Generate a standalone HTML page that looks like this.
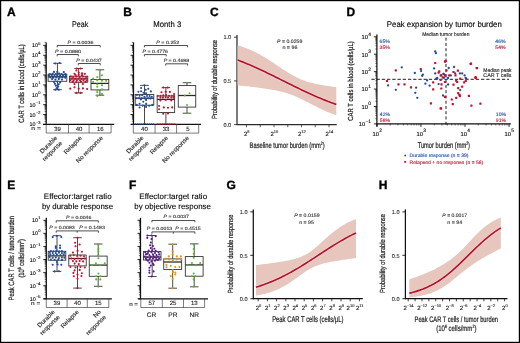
<!DOCTYPE html>
<html><head><meta charset="utf-8"><style>
html,body{margin:0;padding:0;background:#fff;}
body{width:520px;height:343px;overflow:hidden;}
svg{display:block;will-change:transform;font-family:"Liberation Sans",sans-serif;text-rendering:geometricPrecision;}
text{stroke-width:0.12px;}
text.b{stroke-width:0.22px;}
text.L{stroke-width:0.35px;}
</style></head><body>
<svg width="520" height="343" viewBox="0 0 520 343" xmlns="http://www.w3.org/2000/svg">
<rect x="0" y="0" width="520" height="343" fill="#fff"/>
<text class="L" x="7.00" y="16.10" font-size="12" fill="#000" font-weight="bold" stroke="#000">A</text>
<text x="72.00" y="26.60" font-size="8.2" textLength="16.30" lengthAdjust="spacingAndGlyphs" stroke="#111">Peak</text>
<text class="b" x="24.20" y="83.50" font-size="7.6" text-anchor="middle" textLength="78.50" lengthAdjust="spacingAndGlyphs" fill="#222" transform="rotate(-90 24.20 83.50)" stroke="#222">CAR T cells in blood (cells/µL)</text>
<line x1="46.20" y1="42.40" x2="46.20" y2="124.90" stroke="#111" stroke-width="1.25"/>
<line x1="43.20" y1="124.40" x2="46.20" y2="124.40" stroke="#111" stroke-width="0.9"/>
<text x="40.50" y="126.40" font-size="5.4" text-anchor="end" stroke="#111">10<tspan dx="0.35" dy="-2.9" font-size="4.00">−3</tspan></text>
<line x1="44.60" y1="121.43" x2="46.20" y2="121.43" stroke="#111" stroke-width="0.6"/>
<line x1="44.60" y1="119.69" x2="46.20" y2="119.69" stroke="#111" stroke-width="0.6"/>
<line x1="44.60" y1="118.45" x2="46.20" y2="118.45" stroke="#111" stroke-width="0.6"/>
<line x1="44.60" y1="117.50" x2="46.20" y2="117.50" stroke="#111" stroke-width="0.6"/>
<line x1="44.60" y1="116.72" x2="46.20" y2="116.72" stroke="#111" stroke-width="0.6"/>
<line x1="44.60" y1="116.05" x2="46.20" y2="116.05" stroke="#111" stroke-width="0.6"/>
<line x1="44.60" y1="115.48" x2="46.20" y2="115.48" stroke="#111" stroke-width="0.6"/>
<line x1="44.60" y1="114.98" x2="46.20" y2="114.98" stroke="#111" stroke-width="0.6"/>
<line x1="43.20" y1="114.53" x2="46.20" y2="114.53" stroke="#111" stroke-width="0.9"/>
<text x="40.50" y="116.53" font-size="5.4" text-anchor="end" stroke="#111">10<tspan dx="0.35" dy="-2.9" font-size="4.00">−2</tspan></text>
<line x1="44.60" y1="111.55" x2="46.20" y2="111.55" stroke="#111" stroke-width="0.6"/>
<line x1="44.60" y1="109.81" x2="46.20" y2="109.81" stroke="#111" stroke-width="0.6"/>
<line x1="44.60" y1="108.58" x2="46.20" y2="108.58" stroke="#111" stroke-width="0.6"/>
<line x1="44.60" y1="107.62" x2="46.20" y2="107.62" stroke="#111" stroke-width="0.6"/>
<line x1="44.60" y1="106.84" x2="46.20" y2="106.84" stroke="#111" stroke-width="0.6"/>
<line x1="44.60" y1="106.18" x2="46.20" y2="106.18" stroke="#111" stroke-width="0.6"/>
<line x1="44.60" y1="105.61" x2="46.20" y2="105.61" stroke="#111" stroke-width="0.6"/>
<line x1="44.60" y1="105.10" x2="46.20" y2="105.10" stroke="#111" stroke-width="0.6"/>
<line x1="43.20" y1="104.65" x2="46.20" y2="104.65" stroke="#111" stroke-width="0.9"/>
<text x="40.50" y="106.65" font-size="5.4" text-anchor="end" stroke="#111">10<tspan dx="0.35" dy="-2.9" font-size="4.00">−1</tspan></text>
<line x1="44.60" y1="101.68" x2="46.20" y2="101.68" stroke="#111" stroke-width="0.6"/>
<line x1="44.60" y1="99.94" x2="46.20" y2="99.94" stroke="#111" stroke-width="0.6"/>
<line x1="44.60" y1="98.70" x2="46.20" y2="98.70" stroke="#111" stroke-width="0.6"/>
<line x1="44.60" y1="97.75" x2="46.20" y2="97.75" stroke="#111" stroke-width="0.6"/>
<line x1="44.60" y1="96.97" x2="46.20" y2="96.97" stroke="#111" stroke-width="0.6"/>
<line x1="44.60" y1="96.30" x2="46.20" y2="96.30" stroke="#111" stroke-width="0.6"/>
<line x1="44.60" y1="95.73" x2="46.20" y2="95.73" stroke="#111" stroke-width="0.6"/>
<line x1="44.60" y1="95.23" x2="46.20" y2="95.23" stroke="#111" stroke-width="0.6"/>
<line x1="43.20" y1="94.78" x2="46.20" y2="94.78" stroke="#111" stroke-width="0.9"/>
<text x="40.50" y="96.78" font-size="5.4" text-anchor="end" stroke="#111">10<tspan dx="0.35" dy="-2.9" font-size="4.00">0</tspan></text>
<line x1="44.60" y1="91.80" x2="46.20" y2="91.80" stroke="#111" stroke-width="0.6"/>
<line x1="44.60" y1="90.06" x2="46.20" y2="90.06" stroke="#111" stroke-width="0.6"/>
<line x1="44.60" y1="88.83" x2="46.20" y2="88.83" stroke="#111" stroke-width="0.6"/>
<line x1="44.60" y1="87.87" x2="46.20" y2="87.87" stroke="#111" stroke-width="0.6"/>
<line x1="44.60" y1="87.09" x2="46.20" y2="87.09" stroke="#111" stroke-width="0.6"/>
<line x1="44.60" y1="86.43" x2="46.20" y2="86.43" stroke="#111" stroke-width="0.6"/>
<line x1="44.60" y1="85.86" x2="46.20" y2="85.86" stroke="#111" stroke-width="0.6"/>
<line x1="44.60" y1="85.35" x2="46.20" y2="85.35" stroke="#111" stroke-width="0.6"/>
<line x1="43.20" y1="84.90" x2="46.20" y2="84.90" stroke="#111" stroke-width="0.9"/>
<text x="40.50" y="86.90" font-size="5.4" text-anchor="end" stroke="#111">10<tspan dx="0.35" dy="-2.9" font-size="4.00">1</tspan></text>
<line x1="44.60" y1="81.93" x2="46.20" y2="81.93" stroke="#111" stroke-width="0.6"/>
<line x1="44.60" y1="80.19" x2="46.20" y2="80.19" stroke="#111" stroke-width="0.6"/>
<line x1="44.60" y1="78.95" x2="46.20" y2="78.95" stroke="#111" stroke-width="0.6"/>
<line x1="44.60" y1="78.00" x2="46.20" y2="78.00" stroke="#111" stroke-width="0.6"/>
<line x1="44.60" y1="77.22" x2="46.20" y2="77.22" stroke="#111" stroke-width="0.6"/>
<line x1="44.60" y1="76.55" x2="46.20" y2="76.55" stroke="#111" stroke-width="0.6"/>
<line x1="44.60" y1="75.98" x2="46.20" y2="75.98" stroke="#111" stroke-width="0.6"/>
<line x1="44.60" y1="75.48" x2="46.20" y2="75.48" stroke="#111" stroke-width="0.6"/>
<line x1="43.20" y1="75.03" x2="46.20" y2="75.03" stroke="#111" stroke-width="0.9"/>
<text x="40.50" y="77.03" font-size="5.4" text-anchor="end" stroke="#111">10<tspan dx="0.35" dy="-2.9" font-size="4.00">2</tspan></text>
<line x1="44.60" y1="72.05" x2="46.20" y2="72.05" stroke="#111" stroke-width="0.6"/>
<line x1="44.60" y1="70.31" x2="46.20" y2="70.31" stroke="#111" stroke-width="0.6"/>
<line x1="44.60" y1="69.08" x2="46.20" y2="69.08" stroke="#111" stroke-width="0.6"/>
<line x1="44.60" y1="68.12" x2="46.20" y2="68.12" stroke="#111" stroke-width="0.6"/>
<line x1="44.60" y1="67.34" x2="46.20" y2="67.34" stroke="#111" stroke-width="0.6"/>
<line x1="44.60" y1="66.68" x2="46.20" y2="66.68" stroke="#111" stroke-width="0.6"/>
<line x1="44.60" y1="66.11" x2="46.20" y2="66.11" stroke="#111" stroke-width="0.6"/>
<line x1="44.60" y1="65.60" x2="46.20" y2="65.60" stroke="#111" stroke-width="0.6"/>
<line x1="43.20" y1="65.15" x2="46.20" y2="65.15" stroke="#111" stroke-width="0.9"/>
<text x="40.50" y="67.15" font-size="5.4" text-anchor="end" stroke="#111">10<tspan dx="0.35" dy="-2.9" font-size="4.00">3</tspan></text>
<line x1="44.60" y1="62.18" x2="46.20" y2="62.18" stroke="#111" stroke-width="0.6"/>
<line x1="44.60" y1="60.44" x2="46.20" y2="60.44" stroke="#111" stroke-width="0.6"/>
<line x1="44.60" y1="59.20" x2="46.20" y2="59.20" stroke="#111" stroke-width="0.6"/>
<line x1="44.60" y1="58.25" x2="46.20" y2="58.25" stroke="#111" stroke-width="0.6"/>
<line x1="44.60" y1="57.47" x2="46.20" y2="57.47" stroke="#111" stroke-width="0.6"/>
<line x1="44.60" y1="56.80" x2="46.20" y2="56.80" stroke="#111" stroke-width="0.6"/>
<line x1="44.60" y1="56.23" x2="46.20" y2="56.23" stroke="#111" stroke-width="0.6"/>
<line x1="44.60" y1="55.73" x2="46.20" y2="55.73" stroke="#111" stroke-width="0.6"/>
<line x1="43.20" y1="55.27" x2="46.20" y2="55.27" stroke="#111" stroke-width="0.9"/>
<text x="40.50" y="57.27" font-size="5.4" text-anchor="end" stroke="#111">10<tspan dx="0.35" dy="-2.9" font-size="4.00">4</tspan></text>
<line x1="44.60" y1="52.30" x2="46.20" y2="52.30" stroke="#111" stroke-width="0.6"/>
<line x1="44.60" y1="50.56" x2="46.20" y2="50.56" stroke="#111" stroke-width="0.6"/>
<line x1="44.60" y1="49.33" x2="46.20" y2="49.33" stroke="#111" stroke-width="0.6"/>
<line x1="44.60" y1="48.37" x2="46.20" y2="48.37" stroke="#111" stroke-width="0.6"/>
<line x1="44.60" y1="47.59" x2="46.20" y2="47.59" stroke="#111" stroke-width="0.6"/>
<line x1="44.60" y1="46.93" x2="46.20" y2="46.93" stroke="#111" stroke-width="0.6"/>
<line x1="44.60" y1="46.36" x2="46.20" y2="46.36" stroke="#111" stroke-width="0.6"/>
<line x1="44.60" y1="45.85" x2="46.20" y2="45.85" stroke="#111" stroke-width="0.6"/>
<line x1="43.20" y1="45.40" x2="46.20" y2="45.40" stroke="#111" stroke-width="0.9"/>
<text x="40.50" y="47.40" font-size="5.4" text-anchor="end" stroke="#111">10<tspan dx="0.35" dy="-2.9" font-size="4.00">5</tspan></text>
<line x1="44.60" y1="42.43" x2="46.20" y2="42.43" stroke="#111" stroke-width="0.6"/>
<line x1="43.00" y1="124.40" x2="114.20" y2="124.40" stroke="#111" stroke-width="1.25"/>
<text x="31.30" y="130.30" font-size="5.4" textLength="9.60" lengthAdjust="spacingAndGlyphs" fill="#222" stroke="#222">n =</text>
<line x1="46.20" y1="124.40" x2="46.20" y2="133.00" stroke="#444" stroke-width="0.7"/>
<line x1="111.10" y1="124.40" x2="111.10" y2="133.00" stroke="#444" stroke-width="0.7"/>
<line x1="46.20" y1="133.00" x2="111.10" y2="133.00" stroke="#444" stroke-width="0.7"/>
<line x1="68.50" y1="124.40" x2="68.50" y2="133.00" stroke="#444" stroke-width="0.7"/>
<line x1="89.10" y1="124.40" x2="89.10" y2="133.00" stroke="#444" stroke-width="0.7"/>
<text x="57.55" y="130.90" font-size="6.0" text-anchor="middle" fill="#222" stroke="#222">39</text>
<text x="79.00" y="130.90" font-size="6.0" text-anchor="middle" fill="#222" stroke="#222">40</text>
<text x="100.30" y="130.90" font-size="6.0" text-anchor="middle" fill="#222" stroke="#222">16</text>
<line x1="57.45" y1="63.30" x2="57.45" y2="74.20" stroke="#2a2a2a" stroke-width="0.85"/>
<line x1="57.45" y1="81.30" x2="57.45" y2="89.70" stroke="#2a2a2a" stroke-width="0.85"/>
<line x1="53.15" y1="63.30" x2="61.75" y2="63.30" stroke="#2a2a2a" stroke-width="0.85"/>
<line x1="53.15" y1="89.70" x2="61.75" y2="89.70" stroke="#2a2a2a" stroke-width="0.85"/>
<rect x="48.10" y="74.20" width="18.70" height="7.10" stroke="#2a2a2a" stroke-width="0.85" fill="none"/>
<line x1="48.10" y1="76.80" x2="66.80" y2="76.80" stroke="#2a2a2a" stroke-width="1.275"/>
<line x1="78.60" y1="68.50" x2="78.60" y2="76.20" stroke="#2a2a2a" stroke-width="0.85"/>
<line x1="78.60" y1="82.20" x2="78.60" y2="92.90" stroke="#2a2a2a" stroke-width="0.85"/>
<line x1="74.30" y1="68.50" x2="82.90" y2="68.50" stroke="#2a2a2a" stroke-width="0.85"/>
<line x1="74.30" y1="92.90" x2="82.90" y2="92.90" stroke="#2a2a2a" stroke-width="0.85"/>
<rect x="69.40" y="76.20" width="18.40" height="6.00" stroke="#2a2a2a" stroke-width="0.85" fill="none"/>
<line x1="69.40" y1="78.90" x2="87.80" y2="78.90" stroke="#2a2a2a" stroke-width="1.275"/>
<line x1="99.90" y1="69.80" x2="99.90" y2="79.40" stroke="#2a2a2a" stroke-width="0.85"/>
<line x1="99.90" y1="89.90" x2="99.90" y2="95.20" stroke="#2a2a2a" stroke-width="0.85"/>
<line x1="95.60" y1="69.80" x2="104.20" y2="69.80" stroke="#2a2a2a" stroke-width="0.85"/>
<line x1="95.60" y1="95.20" x2="104.20" y2="95.20" stroke="#2a2a2a" stroke-width="0.85"/>
<rect x="91.00" y="79.40" width="17.80" height="10.50" stroke="#2a2a2a" stroke-width="0.85" fill="none"/>
<line x1="91.00" y1="83.40" x2="108.80" y2="83.40" stroke="#2a2a2a" stroke-width="1.275"/>
<circle cx="55.20" cy="63.50" r="1.1" fill="#1f4a9c"/>
<circle cx="59.60" cy="63.00" r="1.1" fill="#1f4a9c"/>
<circle cx="54.00" cy="71.90" r="1.1" fill="#1f4a9c"/>
<circle cx="57.30" cy="71.90" r="1.1" fill="#1f4a9c"/>
<circle cx="63.80" cy="72.10" r="1.1" fill="#1f4a9c"/>
<circle cx="49.80" cy="74.00" r="1.1" fill="#1f4a9c"/>
<circle cx="52.60" cy="73.80" r="1.1" fill="#1f4a9c"/>
<circle cx="55.90" cy="74.00" r="1.1" fill="#1f4a9c"/>
<circle cx="59.10" cy="73.50" r="1.1" fill="#1f4a9c"/>
<circle cx="61.50" cy="74.00" r="1.1" fill="#1f4a9c"/>
<circle cx="65.20" cy="74.20" r="1.1" fill="#1f4a9c"/>
<circle cx="48.90" cy="75.70" r="1.1" fill="#1f4a9c"/>
<circle cx="51.70" cy="75.40" r="1.1" fill="#1f4a9c"/>
<circle cx="54.50" cy="75.90" r="1.1" fill="#1f4a9c"/>
<circle cx="57.30" cy="75.40" r="1.1" fill="#1f4a9c"/>
<circle cx="60.10" cy="75.90" r="1.1" fill="#1f4a9c"/>
<circle cx="62.90" cy="75.40" r="1.1" fill="#1f4a9c"/>
<circle cx="65.70" cy="75.90" r="1.1" fill="#1f4a9c"/>
<circle cx="50.30" cy="77.30" r="1.1" fill="#1f4a9c"/>
<circle cx="53.10" cy="77.70" r="1.1" fill="#1f4a9c"/>
<circle cx="56.30" cy="77.30" r="1.1" fill="#1f4a9c"/>
<circle cx="59.60" cy="77.70" r="1.1" fill="#1f4a9c"/>
<circle cx="62.40" cy="77.30" r="1.1" fill="#1f4a9c"/>
<circle cx="65.20" cy="77.70" r="1.1" fill="#1f4a9c"/>
<circle cx="52.10" cy="79.10" r="1.1" fill="#1f4a9c"/>
<circle cx="55.40" cy="79.60" r="1.1" fill="#1f4a9c"/>
<circle cx="58.70" cy="79.10" r="1.1" fill="#1f4a9c"/>
<circle cx="61.90" cy="79.60" r="1.1" fill="#1f4a9c"/>
<circle cx="54.00" cy="81.90" r="1.1" fill="#1f4a9c"/>
<circle cx="57.30" cy="81.50" r="1.1" fill="#1f4a9c"/>
<circle cx="60.10" cy="82.40" r="1.1" fill="#1f4a9c"/>
<circle cx="54.90" cy="83.80" r="1.1" fill="#1f4a9c"/>
<circle cx="58.70" cy="84.30" r="1.1" fill="#1f4a9c"/>
<circle cx="55.90" cy="85.70" r="1.1" fill="#1f4a9c"/>
<circle cx="58.20" cy="86.60" r="1.1" fill="#1f4a9c"/>
<circle cx="56.80" cy="88.00" r="1.1" fill="#1f4a9c"/>
<circle cx="55.40" cy="89.70" r="1.1" fill="#1f4a9c"/>
<circle cx="58.70" cy="89.70" r="1.1" fill="#1f4a9c"/>
<circle cx="76.60" cy="68.50" r="1.1" fill="#c5112f"/>
<circle cx="80.60" cy="68.50" r="1.1" fill="#c5112f"/>
<circle cx="76.40" cy="70.50" r="1.1" fill="#c5112f"/>
<circle cx="78.70" cy="72.60" r="1.1" fill="#c5112f"/>
<circle cx="74.50" cy="73.80" r="1.1" fill="#c5112f"/>
<circle cx="82.00" cy="73.30" r="1.1" fill="#c5112f"/>
<circle cx="84.80" cy="73.80" r="1.1" fill="#c5112f"/>
<circle cx="75.50" cy="75.00" r="1.1" fill="#c5112f"/>
<circle cx="78.70" cy="74.70" r="1.1" fill="#c5112f"/>
<circle cx="82.00" cy="75.20" r="1.1" fill="#c5112f"/>
<circle cx="70.80" cy="76.60" r="1.1" fill="#c5112f"/>
<circle cx="73.10" cy="77.10" r="1.1" fill="#c5112f"/>
<circle cx="76.40" cy="76.60" r="1.1" fill="#c5112f"/>
<circle cx="79.70" cy="77.10" r="1.1" fill="#c5112f"/>
<circle cx="82.90" cy="76.60" r="1.1" fill="#c5112f"/>
<circle cx="86.20" cy="77.10" r="1.1" fill="#c5112f"/>
<circle cx="71.70" cy="78.50" r="1.1" fill="#c5112f"/>
<circle cx="75.00" cy="78.70" r="1.1" fill="#c5112f"/>
<circle cx="78.30" cy="78.50" r="1.1" fill="#c5112f"/>
<circle cx="81.50" cy="78.70" r="1.1" fill="#c5112f"/>
<circle cx="84.80" cy="78.50" r="1.1" fill="#c5112f"/>
<circle cx="70.30" cy="80.30" r="1.1" fill="#c5112f"/>
<circle cx="73.60" cy="80.60" r="1.1" fill="#c5112f"/>
<circle cx="76.90" cy="80.30" r="1.1" fill="#c5112f"/>
<circle cx="80.10" cy="80.60" r="1.1" fill="#c5112f"/>
<circle cx="83.40" cy="80.30" r="1.1" fill="#c5112f"/>
<circle cx="86.70" cy="80.60" r="1.1" fill="#c5112f"/>
<circle cx="72.70" cy="81.90" r="1.1" fill="#c5112f"/>
<circle cx="76.40" cy="82.20" r="1.1" fill="#c5112f"/>
<circle cx="81.10" cy="81.90" r="1.1" fill="#c5112f"/>
<circle cx="85.30" cy="81.90" r="1.1" fill="#c5112f"/>
<circle cx="74.50" cy="84.10" r="1.1" fill="#c5112f"/>
<circle cx="82.90" cy="84.10" r="1.1" fill="#c5112f"/>
<circle cx="74.50" cy="87.30" r="1.1" fill="#c5112f"/>
<circle cx="70.30" cy="88.70" r="1.1" fill="#c5112f"/>
<circle cx="78.70" cy="88.70" r="1.1" fill="#c5112f"/>
<circle cx="82.90" cy="88.40" r="1.1" fill="#c5112f"/>
<circle cx="87.10" cy="89.00" r="1.1" fill="#c5112f"/>
<circle cx="76.40" cy="92.90" r="1.1" fill="#c5112f"/>
<circle cx="80.60" cy="92.90" r="1.1" fill="#c5112f"/>
<circle cx="99.70" cy="69.90" r="1.05" fill="#5cb32c"/>
<circle cx="102.00" cy="75.20" r="1.05" fill="#5cb32c"/>
<circle cx="97.30" cy="77.00" r="1.05" fill="#5cb32c"/>
<circle cx="93.10" cy="78.60" r="1.05" fill="#5cb32c"/>
<circle cx="97.30" cy="80.20" r="1.05" fill="#5cb32c"/>
<circle cx="102.00" cy="80.70" r="1.05" fill="#5cb32c"/>
<circle cx="106.20" cy="80.70" r="1.05" fill="#5cb32c"/>
<circle cx="93.10" cy="82.10" r="1.05" fill="#5cb32c"/>
<circle cx="97.30" cy="84.20" r="1.05" fill="#5cb32c"/>
<circle cx="102.00" cy="85.20" r="1.05" fill="#5cb32c"/>
<circle cx="97.30" cy="86.70" r="1.05" fill="#5cb32c"/>
<circle cx="102.00" cy="89.40" r="1.05" fill="#5cb32c"/>
<circle cx="97.30" cy="90.50" r="1.05" fill="#5cb32c"/>
<circle cx="97.30" cy="92.20" r="1.05" fill="#5cb32c"/>
<circle cx="102.00" cy="93.90" r="1.05" fill="#5cb32c"/>
<circle cx="97.30" cy="95.90" r="1.05" fill="#5cb32c"/>
<path d="M57.20,47.30 L57.20,45.50 L100.20,45.50 L100.20,47.30" stroke="#222" stroke-width="0.8" fill="none"/>
<text x="80.50" y="44.00" font-size="4.6" text-anchor="middle" fill="#333" textLength="26.00" lengthAdjust="spacingAndGlyphs" stroke="#333"><tspan font-style="italic">P</tspan> = 0.0036</text>
<path d="M57.20,56.30 L57.20,54.50 L78.30,54.50 L78.30,56.30" stroke="#222" stroke-width="0.8" fill="none"/>
<text x="68.00" y="53.00" font-size="4.6" text-anchor="middle" fill="#333" textLength="26.00" lengthAdjust="spacingAndGlyphs" stroke="#333"><tspan font-style="italic">P</tspan> = 0.0880</text>
<path d="M78.30,65.30 L78.30,63.50 L100.20,63.50 L100.20,65.30" stroke="#222" stroke-width="0.8" fill="none"/>
<text x="89.00" y="62.00" font-size="4.6" text-anchor="middle" fill="#333" textLength="25.50" lengthAdjust="spacingAndGlyphs" stroke="#333"><tspan font-style="italic">P</tspan> = 0.0437</text>
<text x="57.60" y="138.40" font-size="6.2" text-anchor="end" fill="#222" transform="rotate(-45 57.60 138.40)" stroke="#222">Durable</text>
<text x="62.69" y="143.49" font-size="6.2" text-anchor="end" fill="#222" transform="rotate(-45 62.69 143.49)" stroke="#222">response</text>
<text x="82.20" y="138.40" font-size="6.2" text-anchor="end" fill="#222" transform="rotate(-45 82.20 138.40)" stroke="#222">Relapse</text>
<text x="103.40" y="138.40" font-size="6.2" text-anchor="end" fill="#222" transform="rotate(-45 103.40 138.40)" stroke="#222">No response</text>
<text class="L" x="123.20" y="16.10" font-size="12" fill="#000" font-weight="bold" stroke="#000">B</text>
<text x="153.30" y="26.60" font-size="8.2" textLength="28.00" lengthAdjust="spacingAndGlyphs" stroke="#111">Month 3</text>
<line x1="133.50" y1="42.40" x2="133.50" y2="124.90" stroke="#111" stroke-width="1.25"/>
<line x1="130.50" y1="124.40" x2="133.50" y2="124.40" stroke="#111" stroke-width="0.9"/>
<line x1="131.90" y1="121.43" x2="133.50" y2="121.43" stroke="#111" stroke-width="0.6"/>
<line x1="131.90" y1="119.69" x2="133.50" y2="119.69" stroke="#111" stroke-width="0.6"/>
<line x1="131.90" y1="118.45" x2="133.50" y2="118.45" stroke="#111" stroke-width="0.6"/>
<line x1="131.90" y1="117.50" x2="133.50" y2="117.50" stroke="#111" stroke-width="0.6"/>
<line x1="131.90" y1="116.72" x2="133.50" y2="116.72" stroke="#111" stroke-width="0.6"/>
<line x1="131.90" y1="116.05" x2="133.50" y2="116.05" stroke="#111" stroke-width="0.6"/>
<line x1="131.90" y1="115.48" x2="133.50" y2="115.48" stroke="#111" stroke-width="0.6"/>
<line x1="131.90" y1="114.98" x2="133.50" y2="114.98" stroke="#111" stroke-width="0.6"/>
<line x1="130.50" y1="114.53" x2="133.50" y2="114.53" stroke="#111" stroke-width="0.9"/>
<line x1="131.90" y1="111.55" x2="133.50" y2="111.55" stroke="#111" stroke-width="0.6"/>
<line x1="131.90" y1="109.81" x2="133.50" y2="109.81" stroke="#111" stroke-width="0.6"/>
<line x1="131.90" y1="108.58" x2="133.50" y2="108.58" stroke="#111" stroke-width="0.6"/>
<line x1="131.90" y1="107.62" x2="133.50" y2="107.62" stroke="#111" stroke-width="0.6"/>
<line x1="131.90" y1="106.84" x2="133.50" y2="106.84" stroke="#111" stroke-width="0.6"/>
<line x1="131.90" y1="106.18" x2="133.50" y2="106.18" stroke="#111" stroke-width="0.6"/>
<line x1="131.90" y1="105.61" x2="133.50" y2="105.61" stroke="#111" stroke-width="0.6"/>
<line x1="131.90" y1="105.10" x2="133.50" y2="105.10" stroke="#111" stroke-width="0.6"/>
<line x1="130.50" y1="104.65" x2="133.50" y2="104.65" stroke="#111" stroke-width="0.9"/>
<line x1="131.90" y1="101.68" x2="133.50" y2="101.68" stroke="#111" stroke-width="0.6"/>
<line x1="131.90" y1="99.94" x2="133.50" y2="99.94" stroke="#111" stroke-width="0.6"/>
<line x1="131.90" y1="98.70" x2="133.50" y2="98.70" stroke="#111" stroke-width="0.6"/>
<line x1="131.90" y1="97.75" x2="133.50" y2="97.75" stroke="#111" stroke-width="0.6"/>
<line x1="131.90" y1="96.97" x2="133.50" y2="96.97" stroke="#111" stroke-width="0.6"/>
<line x1="131.90" y1="96.30" x2="133.50" y2="96.30" stroke="#111" stroke-width="0.6"/>
<line x1="131.90" y1="95.73" x2="133.50" y2="95.73" stroke="#111" stroke-width="0.6"/>
<line x1="131.90" y1="95.23" x2="133.50" y2="95.23" stroke="#111" stroke-width="0.6"/>
<line x1="130.50" y1="94.78" x2="133.50" y2="94.78" stroke="#111" stroke-width="0.9"/>
<line x1="131.90" y1="91.80" x2="133.50" y2="91.80" stroke="#111" stroke-width="0.6"/>
<line x1="131.90" y1="90.06" x2="133.50" y2="90.06" stroke="#111" stroke-width="0.6"/>
<line x1="131.90" y1="88.83" x2="133.50" y2="88.83" stroke="#111" stroke-width="0.6"/>
<line x1="131.90" y1="87.87" x2="133.50" y2="87.87" stroke="#111" stroke-width="0.6"/>
<line x1="131.90" y1="87.09" x2="133.50" y2="87.09" stroke="#111" stroke-width="0.6"/>
<line x1="131.90" y1="86.43" x2="133.50" y2="86.43" stroke="#111" stroke-width="0.6"/>
<line x1="131.90" y1="85.86" x2="133.50" y2="85.86" stroke="#111" stroke-width="0.6"/>
<line x1="131.90" y1="85.35" x2="133.50" y2="85.35" stroke="#111" stroke-width="0.6"/>
<line x1="130.50" y1="84.90" x2="133.50" y2="84.90" stroke="#111" stroke-width="0.9"/>
<line x1="131.90" y1="81.93" x2="133.50" y2="81.93" stroke="#111" stroke-width="0.6"/>
<line x1="131.90" y1="80.19" x2="133.50" y2="80.19" stroke="#111" stroke-width="0.6"/>
<line x1="131.90" y1="78.95" x2="133.50" y2="78.95" stroke="#111" stroke-width="0.6"/>
<line x1="131.90" y1="78.00" x2="133.50" y2="78.00" stroke="#111" stroke-width="0.6"/>
<line x1="131.90" y1="77.22" x2="133.50" y2="77.22" stroke="#111" stroke-width="0.6"/>
<line x1="131.90" y1="76.55" x2="133.50" y2="76.55" stroke="#111" stroke-width="0.6"/>
<line x1="131.90" y1="75.98" x2="133.50" y2="75.98" stroke="#111" stroke-width="0.6"/>
<line x1="131.90" y1="75.48" x2="133.50" y2="75.48" stroke="#111" stroke-width="0.6"/>
<line x1="130.50" y1="75.03" x2="133.50" y2="75.03" stroke="#111" stroke-width="0.9"/>
<line x1="131.90" y1="72.05" x2="133.50" y2="72.05" stroke="#111" stroke-width="0.6"/>
<line x1="131.90" y1="70.31" x2="133.50" y2="70.31" stroke="#111" stroke-width="0.6"/>
<line x1="131.90" y1="69.08" x2="133.50" y2="69.08" stroke="#111" stroke-width="0.6"/>
<line x1="131.90" y1="68.12" x2="133.50" y2="68.12" stroke="#111" stroke-width="0.6"/>
<line x1="131.90" y1="67.34" x2="133.50" y2="67.34" stroke="#111" stroke-width="0.6"/>
<line x1="131.90" y1="66.68" x2="133.50" y2="66.68" stroke="#111" stroke-width="0.6"/>
<line x1="131.90" y1="66.11" x2="133.50" y2="66.11" stroke="#111" stroke-width="0.6"/>
<line x1="131.90" y1="65.60" x2="133.50" y2="65.60" stroke="#111" stroke-width="0.6"/>
<line x1="130.50" y1="65.15" x2="133.50" y2="65.15" stroke="#111" stroke-width="0.9"/>
<line x1="131.90" y1="62.18" x2="133.50" y2="62.18" stroke="#111" stroke-width="0.6"/>
<line x1="131.90" y1="60.44" x2="133.50" y2="60.44" stroke="#111" stroke-width="0.6"/>
<line x1="131.90" y1="59.20" x2="133.50" y2="59.20" stroke="#111" stroke-width="0.6"/>
<line x1="131.90" y1="58.25" x2="133.50" y2="58.25" stroke="#111" stroke-width="0.6"/>
<line x1="131.90" y1="57.47" x2="133.50" y2="57.47" stroke="#111" stroke-width="0.6"/>
<line x1="131.90" y1="56.80" x2="133.50" y2="56.80" stroke="#111" stroke-width="0.6"/>
<line x1="131.90" y1="56.23" x2="133.50" y2="56.23" stroke="#111" stroke-width="0.6"/>
<line x1="131.90" y1="55.73" x2="133.50" y2="55.73" stroke="#111" stroke-width="0.6"/>
<line x1="130.50" y1="55.27" x2="133.50" y2="55.27" stroke="#111" stroke-width="0.9"/>
<line x1="131.90" y1="52.30" x2="133.50" y2="52.30" stroke="#111" stroke-width="0.6"/>
<line x1="131.90" y1="50.56" x2="133.50" y2="50.56" stroke="#111" stroke-width="0.6"/>
<line x1="131.90" y1="49.33" x2="133.50" y2="49.33" stroke="#111" stroke-width="0.6"/>
<line x1="131.90" y1="48.37" x2="133.50" y2="48.37" stroke="#111" stroke-width="0.6"/>
<line x1="131.90" y1="47.59" x2="133.50" y2="47.59" stroke="#111" stroke-width="0.6"/>
<line x1="131.90" y1="46.93" x2="133.50" y2="46.93" stroke="#111" stroke-width="0.6"/>
<line x1="131.90" y1="46.36" x2="133.50" y2="46.36" stroke="#111" stroke-width="0.6"/>
<line x1="131.90" y1="45.85" x2="133.50" y2="45.85" stroke="#111" stroke-width="0.6"/>
<line x1="130.50" y1="45.40" x2="133.50" y2="45.40" stroke="#111" stroke-width="0.9"/>
<line x1="131.90" y1="42.43" x2="133.50" y2="42.43" stroke="#111" stroke-width="0.6"/>
<line x1="131.00" y1="124.30" x2="201.10" y2="124.30" stroke="#111" stroke-width="1.25"/>
<line x1="133.30" y1="124.30" x2="133.30" y2="133.10" stroke="#444" stroke-width="0.7"/>
<line x1="198.70" y1="124.30" x2="198.70" y2="133.10" stroke="#444" stroke-width="0.7"/>
<line x1="133.30" y1="133.10" x2="198.70" y2="133.10" stroke="#444" stroke-width="0.7"/>
<line x1="155.10" y1="124.30" x2="155.10" y2="133.10" stroke="#444" stroke-width="0.7"/>
<line x1="176.60" y1="124.30" x2="176.60" y2="133.10" stroke="#444" stroke-width="0.7"/>
<text x="144.40" y="131.00" font-size="6.0" text-anchor="middle" fill="#222" stroke="#222">40</text>
<text x="166.05" y="131.00" font-size="6.0" text-anchor="middle" fill="#222" stroke="#222">33</text>
<text x="187.85" y="131.00" font-size="6.0" text-anchor="middle" fill="#222" stroke="#222">5</text>
<line x1="144.50" y1="85.40" x2="144.50" y2="94.40" stroke="#2a2a2a" stroke-width="0.85"/>
<line x1="144.50" y1="105.20" x2="144.50" y2="124.00" stroke="#2a2a2a" stroke-width="0.85"/>
<line x1="140.20" y1="85.40" x2="148.80" y2="85.40" stroke="#2a2a2a" stroke-width="0.85"/>
<rect x="135.20" y="94.40" width="18.60" height="10.80" stroke="#2a2a2a" stroke-width="0.85" fill="none"/>
<line x1="135.20" y1="98.20" x2="153.80" y2="98.20" stroke="#2a2a2a" stroke-width="1.275"/>
<line x1="165.90" y1="87.60" x2="165.90" y2="96.00" stroke="#2a2a2a" stroke-width="0.85"/>
<line x1="165.90" y1="112.50" x2="165.90" y2="124.00" stroke="#2a2a2a" stroke-width="0.85"/>
<line x1="161.60" y1="87.60" x2="170.20" y2="87.60" stroke="#2a2a2a" stroke-width="0.85"/>
<rect x="157.15" y="96.00" width="17.50" height="16.50" stroke="#2a2a2a" stroke-width="0.85" fill="none"/>
<line x1="157.15" y1="99.40" x2="174.65" y2="99.40" stroke="#2a2a2a" stroke-width="1.275"/>
<line x1="187.00" y1="82.70" x2="187.00" y2="85.60" stroke="#2a2a2a" stroke-width="0.85"/>
<line x1="187.00" y1="107.10" x2="187.00" y2="113.20" stroke="#2a2a2a" stroke-width="0.85"/>
<line x1="182.70" y1="82.70" x2="191.30" y2="82.70" stroke="#2a2a2a" stroke-width="0.85"/>
<line x1="182.70" y1="113.20" x2="191.30" y2="113.20" stroke="#2a2a2a" stroke-width="0.85"/>
<rect x="178.25" y="85.60" width="17.50" height="21.50" stroke="#2a2a2a" stroke-width="0.85" fill="none"/>
<line x1="178.25" y1="95.50" x2="195.75" y2="95.50" stroke="#2a2a2a" stroke-width="1.275"/>
<circle cx="144.40" cy="85.30" r="1.05" fill="#1f4a9c"/>
<circle cx="141.10" cy="88.00" r="1.05" fill="#1f4a9c"/>
<circle cx="145.70" cy="89.70" r="1.05" fill="#1f4a9c"/>
<circle cx="148.30" cy="88.80" r="1.05" fill="#1f4a9c"/>
<circle cx="138.40" cy="91.80" r="1.05" fill="#1f4a9c"/>
<circle cx="141.10" cy="91.20" r="1.05" fill="#1f4a9c"/>
<circle cx="143.50" cy="92.70" r="1.05" fill="#1f4a9c"/>
<circle cx="146.10" cy="93.20" r="1.05" fill="#1f4a9c"/>
<circle cx="150.90" cy="91.40" r="1.05" fill="#1f4a9c"/>
<circle cx="136.90" cy="95.00" r="1.05" fill="#1f4a9c"/>
<circle cx="139.60" cy="95.80" r="1.05" fill="#1f4a9c"/>
<circle cx="142.20" cy="95.30" r="1.05" fill="#1f4a9c"/>
<circle cx="144.40" cy="96.70" r="1.05" fill="#1f4a9c"/>
<circle cx="147.00" cy="96.00" r="1.05" fill="#1f4a9c"/>
<circle cx="149.60" cy="96.00" r="1.05" fill="#1f4a9c"/>
<circle cx="151.80" cy="96.70" r="1.05" fill="#1f4a9c"/>
<circle cx="136.50" cy="98.20" r="1.05" fill="#1f4a9c"/>
<circle cx="139.10" cy="98.20" r="1.05" fill="#1f4a9c"/>
<circle cx="141.70" cy="98.20" r="1.05" fill="#1f4a9c"/>
<circle cx="145.20" cy="98.60" r="1.05" fill="#1f4a9c"/>
<circle cx="148.30" cy="98.20" r="1.05" fill="#1f4a9c"/>
<circle cx="150.50" cy="98.60" r="1.05" fill="#1f4a9c"/>
<circle cx="140.90" cy="99.50" r="1.05" fill="#1f4a9c"/>
<circle cx="146.10" cy="99.90" r="1.05" fill="#1f4a9c"/>
<circle cx="143.30" cy="101.70" r="1.05" fill="#1f4a9c"/>
<circle cx="136.70" cy="104.90" r="1.05" fill="#1f4a9c"/>
<circle cx="139.60" cy="103.70" r="1.05" fill="#1f4a9c"/>
<circle cx="142.80" cy="105.60" r="1.05" fill="#1f4a9c"/>
<circle cx="146.10" cy="103.90" r="1.05" fill="#1f4a9c"/>
<circle cx="149.20" cy="105.80" r="1.05" fill="#1f4a9c"/>
<circle cx="152.20" cy="104.90" r="1.05" fill="#1f4a9c"/>
<circle cx="139.60" cy="107.50" r="1.05" fill="#1f4a9c"/>
<circle cx="146.10" cy="106.90" r="1.05" fill="#1f4a9c"/>
<circle cx="163.30" cy="87.60" r="1.05" fill="#c5112f"/>
<circle cx="167.80" cy="87.60" r="1.05" fill="#c5112f"/>
<circle cx="161.50" cy="92.20" r="1.05" fill="#c5112f"/>
<circle cx="165.70" cy="91.70" r="1.05" fill="#c5112f"/>
<circle cx="169.90" cy="91.90" r="1.05" fill="#c5112f"/>
<circle cx="174.10" cy="94.10" r="1.05" fill="#c5112f"/>
<circle cx="157.70" cy="95.70" r="1.05" fill="#c5112f"/>
<circle cx="160.50" cy="95.70" r="1.05" fill="#c5112f"/>
<circle cx="163.30" cy="95.40" r="1.05" fill="#c5112f"/>
<circle cx="166.10" cy="95.00" r="1.05" fill="#c5112f"/>
<circle cx="169.00" cy="95.70" r="1.05" fill="#c5112f"/>
<circle cx="171.80" cy="95.70" r="1.05" fill="#c5112f"/>
<circle cx="173.90" cy="96.00" r="1.05" fill="#c5112f"/>
<circle cx="160.40" cy="97.60" r="1.05" fill="#c5112f"/>
<circle cx="162.90" cy="97.60" r="1.05" fill="#c5112f"/>
<circle cx="165.70" cy="97.10" r="1.05" fill="#c5112f"/>
<circle cx="168.00" cy="97.60" r="1.05" fill="#c5112f"/>
<circle cx="171.30" cy="97.60" r="1.05" fill="#c5112f"/>
<circle cx="173.60" cy="97.80" r="1.05" fill="#c5112f"/>
<circle cx="160.40" cy="100.40" r="1.05" fill="#c5112f"/>
<circle cx="165.70" cy="99.90" r="1.05" fill="#c5112f"/>
<circle cx="171.30" cy="100.40" r="1.05" fill="#c5112f"/>
<circle cx="159.10" cy="106.00" r="1.05" fill="#c5112f"/>
<circle cx="163.80" cy="107.40" r="1.05" fill="#c5112f"/>
<circle cx="168.00" cy="107.80" r="1.05" fill="#c5112f"/>
<circle cx="172.20" cy="107.40" r="1.05" fill="#c5112f"/>
<circle cx="159.10" cy="109.20" r="1.05" fill="#c5112f"/>
<circle cx="163.30" cy="113.70" r="1.05" fill="#c5112f"/>
<circle cx="168.00" cy="113.40" r="1.05" fill="#c5112f"/>
<circle cx="135.60" cy="124.00" r="0.8" fill="#1f4a9c"/>
<circle cx="137.60" cy="124.00" r="0.8" fill="#1f4a9c"/>
<circle cx="139.60" cy="124.00" r="0.8" fill="#1f4a9c"/>
<circle cx="141.60" cy="124.00" r="0.8" fill="#1f4a9c"/>
<circle cx="143.60" cy="124.00" r="0.8" fill="#1f4a9c"/>
<circle cx="145.60" cy="124.00" r="0.8" fill="#1f4a9c"/>
<circle cx="147.60" cy="124.00" r="0.8" fill="#1f4a9c"/>
<circle cx="149.60" cy="124.00" r="0.8" fill="#1f4a9c"/>
<circle cx="151.60" cy="124.00" r="0.8" fill="#1f4a9c"/>
<circle cx="153.60" cy="124.00" r="0.8" fill="#1f4a9c"/>
<circle cx="157.20" cy="124.00" r="0.8" fill="#c5112f"/>
<circle cx="158.95" cy="124.00" r="0.8" fill="#c5112f"/>
<circle cx="160.70" cy="124.00" r="0.8" fill="#c5112f"/>
<circle cx="162.45" cy="124.00" r="0.8" fill="#c5112f"/>
<circle cx="164.20" cy="124.00" r="0.8" fill="#c5112f"/>
<circle cx="165.95" cy="124.00" r="0.8" fill="#c5112f"/>
<circle cx="167.70" cy="124.00" r="0.8" fill="#c5112f"/>
<circle cx="169.45" cy="124.00" r="0.8" fill="#c5112f"/>
<circle cx="171.20" cy="124.00" r="0.8" fill="#c5112f"/>
<circle cx="172.95" cy="124.00" r="0.8" fill="#c5112f"/>
<circle cx="174.70" cy="124.00" r="0.8" fill="#c5112f"/>
<circle cx="187.00" cy="82.70" r="0.95" fill="#5cb32c"/>
<circle cx="189.50" cy="93.30" r="0.95" fill="#5cb32c"/>
<circle cx="184.80" cy="95.50" r="0.95" fill="#5cb32c"/>
<circle cx="187.00" cy="105.00" r="0.95" fill="#5cb32c"/>
<circle cx="187.00" cy="113.20" r="0.95" fill="#5cb32c"/>
<path d="M144.40,47.30 L144.40,45.50 L187.60,45.50 L187.60,47.30" stroke="#222" stroke-width="0.8" fill="none"/>
<text x="167.80" y="44.00" font-size="4.6" text-anchor="middle" fill="#333" textLength="23.00" lengthAdjust="spacingAndGlyphs" stroke="#333"><tspan font-style="italic">P</tspan> = 0.252</text>
<path d="M144.40,56.40 L144.40,54.60 L166.20,54.60 L166.20,56.40" stroke="#222" stroke-width="0.8" fill="none"/>
<text x="155.30" y="53.10" font-size="4.6" text-anchor="middle" fill="#333" textLength="25.50" lengthAdjust="spacingAndGlyphs" stroke="#333"><tspan font-style="italic">P</tspan> = 0.4776</text>
<path d="M165.70,65.60 L165.70,63.80 L187.60,63.80 L187.60,65.60" stroke="#222" stroke-width="0.8" fill="none"/>
<text x="176.40" y="62.30" font-size="4.6" text-anchor="middle" fill="#333" textLength="25.50" lengthAdjust="spacingAndGlyphs" stroke="#333"><tspan font-style="italic">P</tspan> = 0.4698</text>
<text x="144.00" y="138.40" font-size="6.2" text-anchor="end" fill="#222" transform="rotate(-45 144.00 138.40)" stroke="#222">Durable</text>
<text x="149.09" y="143.49" font-size="6.2" text-anchor="end" fill="#222" transform="rotate(-45 149.09 143.49)" stroke="#222">response</text>
<text x="168.50" y="138.40" font-size="6.2" text-anchor="end" fill="#222" transform="rotate(-45 168.50 138.40)" stroke="#222">Relapse</text>
<text x="189.50" y="138.40" font-size="6.2" text-anchor="end" fill="#222" transform="rotate(-45 189.50 138.40)" stroke="#222">No response</text>
<text class="L" x="210.00" y="16.10" font-size="12" fill="#000" font-weight="bold" stroke="#000">C</text>
<line x1="237.00" y1="35.10" x2="237.00" y2="125.10" stroke="#2a2a2a" stroke-width="1.25"/>
<line x1="236.50" y1="124.60" x2="336.70" y2="124.60" stroke="#2a2a2a" stroke-width="1.25"/>
<line x1="234.00" y1="37.20" x2="237.00" y2="37.20" stroke="#333" stroke-width="0.9"/>
<text x="231.20" y="39.40" font-size="5.6" text-anchor="end" fill="#333" stroke="#333">1.0</text>
<line x1="234.00" y1="80.90" x2="237.00" y2="80.90" stroke="#333" stroke-width="0.9"/>
<text x="231.20" y="83.10" font-size="5.6" text-anchor="end" fill="#333" stroke="#333">0.5</text>
<line x1="234.00" y1="124.60" x2="237.00" y2="124.60" stroke="#333" stroke-width="0.9"/>
<text x="231.20" y="126.80" font-size="5.6" text-anchor="end" fill="#333" stroke="#333">0.0</text>
<line x1="246.50" y1="124.60" x2="246.50" y2="127.20" stroke="#333" stroke-width="0.8"/>
<text x="246.80" y="135.50" font-size="6.0" text-anchor="middle" fill="#222" stroke="#222">2<tspan dy="-3.0" font-size="4.0">8</tspan></text>
<line x1="260.25" y1="124.60" x2="260.25" y2="127.20" stroke="#333" stroke-width="0.8"/>
<line x1="274.00" y1="124.60" x2="274.00" y2="127.20" stroke="#333" stroke-width="0.8"/>
<text x="274.30" y="135.50" font-size="6.0" text-anchor="middle" fill="#222" stroke="#222">2<tspan dy="-3.0" font-size="4.0">10</tspan></text>
<line x1="287.75" y1="124.60" x2="287.75" y2="127.20" stroke="#333" stroke-width="0.8"/>
<line x1="301.50" y1="124.60" x2="301.50" y2="127.20" stroke="#333" stroke-width="0.8"/>
<text x="301.80" y="135.50" font-size="6.0" text-anchor="middle" fill="#222" stroke="#222">2<tspan dy="-3.0" font-size="4.0">12</tspan></text>
<line x1="315.25" y1="124.60" x2="315.25" y2="127.20" stroke="#333" stroke-width="0.8"/>
<line x1="329.00" y1="124.60" x2="329.00" y2="127.20" stroke="#333" stroke-width="0.8"/>
<text x="329.30" y="135.50" font-size="6.0" text-anchor="middle" fill="#222" stroke="#222">2<tspan dy="-3.0" font-size="4.0">14</tspan></text>
<path d="M237.50,45.19 L239.15,45.69 L240.79,46.23 L242.44,46.79 L244.09,47.38 L245.73,48.00 L247.38,48.64 L249.03,49.33 L250.67,50.04 L252.32,50.78 L253.97,51.56 L255.61,52.36 L257.26,53.20 L258.91,54.07 L260.55,54.97 L262.20,55.91 L263.85,56.87 L265.49,57.85 L267.14,58.86 L268.79,59.90 L270.43,60.96 L272.08,62.03 L273.73,63.12 L275.37,64.22 L277.02,65.33 L278.67,66.44 L280.31,67.55 L281.96,68.65 L283.61,69.74 L285.25,70.81 L286.90,71.86 L288.55,72.88 L290.19,73.87 L291.84,74.83 L293.49,75.74 L295.13,76.61 L296.78,77.44 L298.43,78.21 L300.07,78.94 L301.72,79.63 L303.37,80.26 L305.01,80.86 L306.66,81.41 L308.31,81.93 L309.95,82.41 L311.60,82.85 L313.25,83.27 L314.89,83.66 L316.54,84.03 L318.19,84.37 L319.83,84.70 L321.48,85.00 L323.13,85.29 L324.77,85.57 L326.42,85.83 L328.07,86.09 L329.71,86.33 L331.36,86.56 L333.01,86.78 L334.65,86.99 L336.30,87.20 L336.30,115.26 L334.65,114.70 L333.01,114.11 L331.36,113.50 L329.71,112.86 L328.07,112.20 L326.42,111.51 L324.77,110.79 L323.13,110.05 L321.48,109.29 L319.83,108.50 L318.19,107.70 L316.54,106.87 L314.89,106.04 L313.25,105.19 L311.60,104.33 L309.95,103.47 L308.31,102.60 L306.66,101.75 L305.01,100.90 L303.37,100.06 L301.72,99.24 L300.07,98.45 L298.43,97.68 L296.78,96.94 L295.13,96.23 L293.49,95.56 L291.84,94.93 L290.19,94.33 L288.55,93.77 L286.90,93.24 L285.25,92.74 L283.61,92.28 L281.96,91.84 L280.31,91.43 L278.67,91.05 L277.02,90.68 L275.37,90.34 L273.73,90.02 L272.08,89.71 L270.43,89.42 L268.79,89.15 L267.14,88.88 L265.49,88.63 L263.85,88.39 L262.20,88.16 L260.55,87.93 L258.91,87.71 L257.26,87.50 L255.61,87.30 L253.97,87.10 L252.32,86.91 L250.67,86.72 L249.03,86.54 L247.38,86.36 L245.73,86.18 L244.09,86.01 L242.44,85.84 L240.79,85.68 L239.15,85.52 L237.50,85.35 Z" fill="#e7c6be" stroke="none"/>
<path d="M237.50,59.92 L239.15,60.56 L240.79,61.21 L242.44,61.87 L244.09,62.54 L245.73,63.22 L247.38,63.91 L249.03,64.61 L250.67,65.32 L252.32,66.04 L253.97,66.77 L255.61,67.51 L257.26,68.26 L258.91,69.02 L260.55,69.78 L262.20,70.55 L263.85,71.33 L265.49,72.11 L267.14,72.90 L268.79,73.70 L270.43,74.50 L272.08,75.30 L273.73,76.11 L275.37,76.92 L277.02,77.74 L278.67,78.56 L280.31,79.37 L281.96,80.19 L283.61,81.01 L285.25,81.83 L286.90,82.65 L288.55,83.47 L290.19,84.29 L291.84,85.10 L293.49,85.91 L295.13,86.72 L296.78,87.53 L298.43,88.32 L300.07,89.12 L301.72,89.91 L303.37,90.69 L305.01,91.47 L306.66,92.23 L308.31,93.00 L309.95,93.75 L311.60,94.49 L313.25,95.23 L314.89,95.96 L316.54,96.68 L318.19,97.39 L319.83,98.08 L321.48,98.77 L323.13,99.45 L324.77,100.12 L326.42,100.77 L328.07,101.42 L329.71,102.05 L331.36,102.67 L333.01,103.29 L334.65,103.88 L336.30,104.47" fill="none" stroke="#f0dbd5" stroke-width="2.9" stroke-linecap="butt"/>
<path d="M237.50,59.92 L239.15,60.56 L240.79,61.21 L242.44,61.87 L244.09,62.54 L245.73,63.22 L247.38,63.91 L249.03,64.61 L250.67,65.32 L252.32,66.04 L253.97,66.77 L255.61,67.51 L257.26,68.26 L258.91,69.02 L260.55,69.78 L262.20,70.55 L263.85,71.33 L265.49,72.11 L267.14,72.90 L268.79,73.70 L270.43,74.50 L272.08,75.30 L273.73,76.11 L275.37,76.92 L277.02,77.74 L278.67,78.56 L280.31,79.37 L281.96,80.19 L283.61,81.01 L285.25,81.83 L286.90,82.65 L288.55,83.47 L290.19,84.29 L291.84,85.10 L293.49,85.91 L295.13,86.72 L296.78,87.53 L298.43,88.32 L300.07,89.12 L301.72,89.91 L303.37,90.69 L305.01,91.47 L306.66,92.23 L308.31,93.00 L309.95,93.75 L311.60,94.49 L313.25,95.23 L314.89,95.96 L316.54,96.68 L318.19,97.39 L319.83,98.08 L321.48,98.77 L323.13,99.45 L324.77,100.12 L326.42,100.77 L328.07,101.42 L329.71,102.05 L331.36,102.67 L333.01,103.29 L334.65,103.88 L336.30,104.47" fill="none" stroke="#b3102d" stroke-width="1.65" stroke-linecap="butt"/>
<text x="289.70" y="42.80" font-size="4.9" text-anchor="middle" fill="#333" textLength="25.20" lengthAdjust="spacingAndGlyphs" stroke="#333"><tspan font-style="italic">P</tspan> = 0.0259</text>
<text x="289.90" y="48.70" font-size="4.9" text-anchor="middle" textLength="15.00" lengthAdjust="spacingAndGlyphs" fill="#333" stroke="#333">n = 96</text>
<text class="b" x="217.20" y="79.50" font-size="7.4" text-anchor="middle" textLength="79.00" lengthAdjust="spacingAndGlyphs" fill="#222" transform="rotate(-90 217.20 79.50)" stroke="#222">Probability of durable response</text>
<text class="b" x="249.6" y="147.5" font-size="8.0" fill="#222" textLength="75.0" lengthAdjust="spacingAndGlyphs" stroke="#222">Baseline tumor burden (mm<tspan dy="-2.9" font-size="4.8">2</tspan><tspan dy="2.9">)</tspan></text>
<text class="L" x="346.60" y="16.10" font-size="12" fill="#000" font-weight="bold" stroke="#000">D</text>
<text x="386.80" y="26.60" font-size="8.2" textLength="115.00" lengthAdjust="spacingAndGlyphs" stroke="#111">Peak expansion by tumor burden</text>
<line x1="376.90" y1="34.40" x2="376.90" y2="126.40" stroke="#111" stroke-width="1.25"/>
<line x1="376.40" y1="123.90" x2="510.80" y2="123.90" stroke="#111" stroke-width="1.25"/>
<line x1="373.90" y1="123.90" x2="376.90" y2="123.90" stroke="#111" stroke-width="0.9"/>
<text x="371.10" y="126.20" font-size="5.8" text-anchor="end" stroke="#111">10<tspan dx="0.3" dy="-3.4" font-size="4.9">−1</tspan></text>
<line x1="375.30" y1="118.66" x2="376.90" y2="118.66" stroke="#111" stroke-width="0.6"/>
<line x1="375.30" y1="115.59" x2="376.90" y2="115.59" stroke="#111" stroke-width="0.6"/>
<line x1="375.30" y1="113.41" x2="376.90" y2="113.41" stroke="#111" stroke-width="0.6"/>
<line x1="375.30" y1="111.72" x2="376.90" y2="111.72" stroke="#111" stroke-width="0.6"/>
<line x1="375.30" y1="110.34" x2="376.90" y2="110.34" stroke="#111" stroke-width="0.6"/>
<line x1="375.30" y1="109.18" x2="376.90" y2="109.18" stroke="#111" stroke-width="0.6"/>
<line x1="375.30" y1="108.17" x2="376.90" y2="108.17" stroke="#111" stroke-width="0.6"/>
<line x1="375.30" y1="107.28" x2="376.90" y2="107.28" stroke="#111" stroke-width="0.6"/>
<line x1="373.90" y1="106.48" x2="376.90" y2="106.48" stroke="#111" stroke-width="0.9"/>
<text x="371.10" y="108.78" font-size="5.8" text-anchor="end" stroke="#111">10<tspan dx="0.3" dy="-3.4" font-size="4.9">0</tspan></text>
<line x1="375.30" y1="101.24" x2="376.90" y2="101.24" stroke="#111" stroke-width="0.6"/>
<line x1="375.30" y1="98.17" x2="376.90" y2="98.17" stroke="#111" stroke-width="0.6"/>
<line x1="375.30" y1="95.99" x2="376.90" y2="95.99" stroke="#111" stroke-width="0.6"/>
<line x1="375.30" y1="94.30" x2="376.90" y2="94.30" stroke="#111" stroke-width="0.6"/>
<line x1="375.30" y1="92.92" x2="376.90" y2="92.92" stroke="#111" stroke-width="0.6"/>
<line x1="375.30" y1="91.76" x2="376.90" y2="91.76" stroke="#111" stroke-width="0.6"/>
<line x1="375.30" y1="90.75" x2="376.90" y2="90.75" stroke="#111" stroke-width="0.6"/>
<line x1="375.30" y1="89.86" x2="376.90" y2="89.86" stroke="#111" stroke-width="0.6"/>
<line x1="373.90" y1="89.06" x2="376.90" y2="89.06" stroke="#111" stroke-width="0.9"/>
<text x="371.10" y="91.36" font-size="5.8" text-anchor="end" stroke="#111">10<tspan dx="0.3" dy="-3.4" font-size="4.9">1</tspan></text>
<line x1="375.30" y1="83.82" x2="376.90" y2="83.82" stroke="#111" stroke-width="0.6"/>
<line x1="375.30" y1="80.75" x2="376.90" y2="80.75" stroke="#111" stroke-width="0.6"/>
<line x1="375.30" y1="78.57" x2="376.90" y2="78.57" stroke="#111" stroke-width="0.6"/>
<line x1="375.30" y1="76.88" x2="376.90" y2="76.88" stroke="#111" stroke-width="0.6"/>
<line x1="375.30" y1="75.50" x2="376.90" y2="75.50" stroke="#111" stroke-width="0.6"/>
<line x1="375.30" y1="74.34" x2="376.90" y2="74.34" stroke="#111" stroke-width="0.6"/>
<line x1="375.30" y1="73.33" x2="376.90" y2="73.33" stroke="#111" stroke-width="0.6"/>
<line x1="375.30" y1="72.44" x2="376.90" y2="72.44" stroke="#111" stroke-width="0.6"/>
<line x1="373.90" y1="71.64" x2="376.90" y2="71.64" stroke="#111" stroke-width="0.9"/>
<text x="371.10" y="73.94" font-size="5.8" text-anchor="end" stroke="#111">10<tspan dx="0.3" dy="-3.4" font-size="4.9">2</tspan></text>
<line x1="375.30" y1="66.40" x2="376.90" y2="66.40" stroke="#111" stroke-width="0.6"/>
<line x1="375.30" y1="63.33" x2="376.90" y2="63.33" stroke="#111" stroke-width="0.6"/>
<line x1="375.30" y1="61.15" x2="376.90" y2="61.15" stroke="#111" stroke-width="0.6"/>
<line x1="375.30" y1="59.46" x2="376.90" y2="59.46" stroke="#111" stroke-width="0.6"/>
<line x1="375.30" y1="58.08" x2="376.90" y2="58.08" stroke="#111" stroke-width="0.6"/>
<line x1="375.30" y1="56.92" x2="376.90" y2="56.92" stroke="#111" stroke-width="0.6"/>
<line x1="375.30" y1="55.91" x2="376.90" y2="55.91" stroke="#111" stroke-width="0.6"/>
<line x1="375.30" y1="55.02" x2="376.90" y2="55.02" stroke="#111" stroke-width="0.6"/>
<line x1="373.90" y1="54.22" x2="376.90" y2="54.22" stroke="#111" stroke-width="0.9"/>
<text x="371.10" y="56.52" font-size="5.8" text-anchor="end" stroke="#111">10<tspan dx="0.3" dy="-3.4" font-size="4.9">3</tspan></text>
<line x1="375.30" y1="48.98" x2="376.90" y2="48.98" stroke="#111" stroke-width="0.6"/>
<line x1="375.30" y1="45.91" x2="376.90" y2="45.91" stroke="#111" stroke-width="0.6"/>
<line x1="375.30" y1="43.73" x2="376.90" y2="43.73" stroke="#111" stroke-width="0.6"/>
<line x1="375.30" y1="42.04" x2="376.90" y2="42.04" stroke="#111" stroke-width="0.6"/>
<line x1="375.30" y1="40.66" x2="376.90" y2="40.66" stroke="#111" stroke-width="0.6"/>
<line x1="375.30" y1="39.50" x2="376.90" y2="39.50" stroke="#111" stroke-width="0.6"/>
<line x1="375.30" y1="38.49" x2="376.90" y2="38.49" stroke="#111" stroke-width="0.6"/>
<line x1="375.30" y1="37.60" x2="376.90" y2="37.60" stroke="#111" stroke-width="0.6"/>
<line x1="373.90" y1="36.80" x2="376.90" y2="36.80" stroke="#111" stroke-width="0.9"/>
<text x="371.10" y="39.10" font-size="5.8" text-anchor="end" stroke="#111">10<tspan dx="0.3" dy="-3.4" font-size="4.9">4</tspan></text>
<line x1="376.90" y1="123.90" x2="376.90" y2="126.90" stroke="#111" stroke-width="0.9"/>
<text x="377.20" y="135.70" font-size="5.8" text-anchor="middle" stroke="#111">10<tspan dx="0.3" dy="-3.4" font-size="4.9">2</tspan></text>
<line x1="390.16" y1="123.90" x2="390.16" y2="125.50" stroke="#111" stroke-width="0.6"/>
<line x1="397.92" y1="123.90" x2="397.92" y2="125.50" stroke="#111" stroke-width="0.6"/>
<line x1="403.42" y1="123.90" x2="403.42" y2="125.50" stroke="#111" stroke-width="0.6"/>
<line x1="407.69" y1="123.90" x2="407.69" y2="125.50" stroke="#111" stroke-width="0.6"/>
<line x1="411.18" y1="123.90" x2="411.18" y2="125.50" stroke="#111" stroke-width="0.6"/>
<line x1="414.13" y1="123.90" x2="414.13" y2="125.50" stroke="#111" stroke-width="0.6"/>
<line x1="416.68" y1="123.90" x2="416.68" y2="125.50" stroke="#111" stroke-width="0.6"/>
<line x1="418.93" y1="123.90" x2="418.93" y2="125.50" stroke="#111" stroke-width="0.6"/>
<line x1="420.95" y1="123.90" x2="420.95" y2="126.90" stroke="#111" stroke-width="0.9"/>
<text x="421.25" y="135.70" font-size="5.8" text-anchor="middle" stroke="#111">10<tspan dx="0.3" dy="-3.4" font-size="4.9">3</tspan></text>
<line x1="434.21" y1="123.90" x2="434.21" y2="125.50" stroke="#111" stroke-width="0.6"/>
<line x1="441.97" y1="123.90" x2="441.97" y2="125.50" stroke="#111" stroke-width="0.6"/>
<line x1="447.47" y1="123.90" x2="447.47" y2="125.50" stroke="#111" stroke-width="0.6"/>
<line x1="451.74" y1="123.90" x2="451.74" y2="125.50" stroke="#111" stroke-width="0.6"/>
<line x1="455.23" y1="123.90" x2="455.23" y2="125.50" stroke="#111" stroke-width="0.6"/>
<line x1="458.18" y1="123.90" x2="458.18" y2="125.50" stroke="#111" stroke-width="0.6"/>
<line x1="460.73" y1="123.90" x2="460.73" y2="125.50" stroke="#111" stroke-width="0.6"/>
<line x1="462.98" y1="123.90" x2="462.98" y2="125.50" stroke="#111" stroke-width="0.6"/>
<line x1="465.00" y1="123.90" x2="465.00" y2="126.90" stroke="#111" stroke-width="0.9"/>
<text x="465.30" y="135.70" font-size="5.8" text-anchor="middle" stroke="#111">10<tspan dx="0.3" dy="-3.4" font-size="4.9">4</tspan></text>
<line x1="478.26" y1="123.90" x2="478.26" y2="125.50" stroke="#111" stroke-width="0.6"/>
<line x1="486.02" y1="123.90" x2="486.02" y2="125.50" stroke="#111" stroke-width="0.6"/>
<line x1="491.52" y1="123.90" x2="491.52" y2="125.50" stroke="#111" stroke-width="0.6"/>
<line x1="495.79" y1="123.90" x2="495.79" y2="125.50" stroke="#111" stroke-width="0.6"/>
<line x1="499.28" y1="123.90" x2="499.28" y2="125.50" stroke="#111" stroke-width="0.6"/>
<line x1="502.23" y1="123.90" x2="502.23" y2="125.50" stroke="#111" stroke-width="0.6"/>
<line x1="504.78" y1="123.90" x2="504.78" y2="125.50" stroke="#111" stroke-width="0.6"/>
<line x1="507.03" y1="123.90" x2="507.03" y2="125.50" stroke="#111" stroke-width="0.6"/>
<line x1="509.05" y1="123.90" x2="509.05" y2="126.90" stroke="#111" stroke-width="0.9"/>
<text x="509.35" y="135.70" font-size="5.8" text-anchor="middle" stroke="#111">10<tspan dx="0.3" dy="-3.4" font-size="4.9">5</tspan></text>
<line x1="371.40" y1="79.30" x2="509.00" y2="79.30" stroke="#111" stroke-width="0.95" stroke-dasharray="3.3,1.92"/>
<line x1="446.00" y1="37.70" x2="446.00" y2="126.00" stroke="#111" stroke-width="0.95" stroke-dasharray="3.0,2.25"/>
<text x="445.80" y="36.30" font-size="5.5" text-anchor="middle" textLength="47.20" lengthAdjust="spacingAndGlyphs" fill="#222" stroke="#222">Median tumor burden</text>
<text x="483.30" y="71.50" font-size="5.4" textLength="28.20" lengthAdjust="spacingAndGlyphs" fill="#222" stroke="#222">Median peak</text>
<text x="483.30" y="77.40" font-size="5.4" textLength="28.20" lengthAdjust="spacingAndGlyphs" fill="#222" stroke="#222">CAR  T cells</text>
<text x="379.60" y="42.90" font-size="5.1" textLength="10.20" lengthAdjust="spacingAndGlyphs" fill="#1f4a9c" stroke="#1f4a9c">65%</text>
<text x="379.60" y="49.10" font-size="5.1" textLength="10.20" lengthAdjust="spacingAndGlyphs" fill="#c5112f" stroke="#c5112f">35%</text>
<text x="495.30" y="42.70" font-size="5.1" textLength="10.20" lengthAdjust="spacingAndGlyphs" fill="#1f4a9c" stroke="#1f4a9c">46%</text>
<text x="495.30" y="49.10" font-size="5.1" textLength="10.20" lengthAdjust="spacingAndGlyphs" fill="#c5112f" stroke="#c5112f">54%</text>
<text x="379.80" y="115.80" font-size="5.1" textLength="10.20" lengthAdjust="spacingAndGlyphs" fill="#1f4a9c" stroke="#1f4a9c">42%</text>
<text x="379.80" y="121.80" font-size="5.1" textLength="10.20" lengthAdjust="spacingAndGlyphs" fill="#c5112f" stroke="#c5112f">58%</text>
<text x="495.80" y="115.80" font-size="5.1" textLength="10.20" lengthAdjust="spacingAndGlyphs" fill="#1f4a9c" stroke="#1f4a9c">10%</text>
<text x="495.80" y="121.80" font-size="5.1" textLength="10.20" lengthAdjust="spacingAndGlyphs" fill="#c5112f" stroke="#c5112f">91%</text>
<rect x="434.10" y="61.90" width="2.2" height="2.2" rx="0.5" fill="#c5112f"/>
<rect x="394.70" y="69.20" width="2.2" height="2.2" rx="0.5" fill="#c5112f"/>
<rect x="419.70" y="67.90" width="2.2" height="2.2" rx="0.5" fill="#c5112f"/>
<rect x="438.20" y="70.20" width="2.2" height="2.2" rx="0.5" fill="#c5112f"/>
<rect x="437.50" y="71.60" width="2.2" height="2.2" rx="0.5" fill="#c5112f"/>
<rect x="440.20" y="74.30" width="2.2" height="2.2" rx="0.5" fill="#c5112f"/>
<rect x="443.90" y="60.50" width="2.2" height="2.2" rx="0.5" fill="#c5112f"/>
<rect x="443.90" y="74.30" width="2.2" height="2.2" rx="0.5" fill="#c5112f"/>
<rect x="444.60" y="60.10" width="2.2" height="2.2" rx="0.5" fill="#c5112f"/>
<rect x="469.60" y="62.80" width="2.2" height="2.2" rx="0.5" fill="#c5112f"/>
<rect x="475.60" y="66.90" width="2.2" height="2.2" rx="0.5" fill="#c5112f"/>
<rect x="445.40" y="69.20" width="2.2" height="2.2" rx="0.5" fill="#c5112f"/>
<rect x="452.40" y="70.90" width="2.2" height="2.2" rx="0.5" fill="#c5112f"/>
<rect x="456.80" y="69.60" width="2.2" height="2.2" rx="0.5" fill="#c5112f"/>
<rect x="439.60" y="74.30" width="2.2" height="2.2" rx="0.5" fill="#c5112f"/>
<rect x="444.30" y="74.30" width="2.2" height="2.2" rx="0.5" fill="#c5112f"/>
<rect x="448.10" y="74.30" width="2.2" height="2.2" rx="0.5" fill="#c5112f"/>
<rect x="454.40" y="74.30" width="2.2" height="2.2" rx="0.5" fill="#c5112f"/>
<rect x="474.60" y="76.70" width="2.2" height="2.2" rx="0.5" fill="#c5112f"/>
<rect x="459.10" y="77.60" width="2.2" height="2.2" rx="0.5" fill="#c5112f"/>
<rect x="441.60" y="76.30" width="2.2" height="2.2" rx="0.5" fill="#c5112f"/>
<rect x="475.90" y="67.10" width="2.2" height="2.2" rx="0.5" fill="#c5112f"/>
<rect x="474.50" y="76.00" width="2.2" height="2.2" rx="0.5" fill="#c5112f"/>
<rect x="469.90" y="62.60" width="2.2" height="2.2" rx="0.5" fill="#c5112f"/>
<rect x="385.90" y="79.90" width="2.2" height="2.2" rx="0.5" fill="#c5112f"/>
<rect x="397.40" y="83.20" width="2.2" height="2.2" rx="0.5" fill="#c5112f"/>
<rect x="403.40" y="83.20" width="2.2" height="2.2" rx="0.5" fill="#c5112f"/>
<rect x="409.90" y="86.30" width="2.2" height="2.2" rx="0.5" fill="#c5112f"/>
<rect x="432.10" y="81.20" width="2.2" height="2.2" rx="0.5" fill="#c5112f"/>
<rect x="432.10" y="88.30" width="2.2" height="2.2" rx="0.5" fill="#c5112f"/>
<rect x="440.40" y="83.20" width="2.2" height="2.2" rx="0.5" fill="#c5112f"/>
<rect x="440.20" y="87.40" width="2.2" height="2.2" rx="0.5" fill="#c5112f"/>
<rect x="439.50" y="78.90" width="2.2" height="2.2" rx="0.5" fill="#c5112f"/>
<rect x="443.90" y="95.70" width="2.2" height="2.2" rx="0.5" fill="#c5112f"/>
<rect x="429.80" y="102.20" width="2.2" height="2.2" rx="0.5" fill="#c5112f"/>
<rect x="439.50" y="107.20" width="2.2" height="2.2" rx="0.5" fill="#c5112f"/>
<rect x="443.90" y="80.90" width="2.2" height="2.2" rx="0.5" fill="#c5112f"/>
<rect x="452.40" y="83.60" width="2.2" height="2.2" rx="0.5" fill="#c5112f"/>
<rect x="455.10" y="79.60" width="2.2" height="2.2" rx="0.5" fill="#c5112f"/>
<rect x="456.10" y="80.90" width="2.2" height="2.2" rx="0.5" fill="#c5112f"/>
<rect x="457.10" y="87.00" width="2.2" height="2.2" rx="0.5" fill="#c5112f"/>
<rect x="461.10" y="85.60" width="2.2" height="2.2" rx="0.5" fill="#c5112f"/>
<rect x="463.10" y="81.20" width="2.2" height="2.2" rx="0.5" fill="#c5112f"/>
<rect x="464.70" y="79.90" width="2.2" height="2.2" rx="0.5" fill="#c5112f"/>
<rect x="457.10" y="92.00" width="2.2" height="2.2" rx="0.5" fill="#c5112f"/>
<rect x="458.40" y="93.70" width="2.2" height="2.2" rx="0.5" fill="#c5112f"/>
<rect x="458.80" y="95.10" width="2.2" height="2.2" rx="0.5" fill="#c5112f"/>
<rect x="455.10" y="96.80" width="2.2" height="2.2" rx="0.5" fill="#c5112f"/>
<rect x="450.70" y="98.40" width="2.2" height="2.2" rx="0.5" fill="#c5112f"/>
<rect x="451.70" y="103.10" width="2.2" height="2.2" rx="0.5" fill="#c5112f"/>
<rect x="467.80" y="94.80" width="2.2" height="2.2" rx="0.5" fill="#c5112f"/>
<rect x="470.30" y="104.50" width="2.2" height="2.2" rx="0.5" fill="#c5112f"/>
<rect x="479.30" y="102.50" width="2.2" height="2.2" rx="0.5" fill="#c5112f"/>
<rect x="440.00" y="107.20" width="2.2" height="2.2" rx="0.5" fill="#c5112f"/>
<rect x="474.60" y="76.90" width="2.2" height="2.2" rx="0.5" fill="#c5112f"/>
<circle cx="435.20" cy="51.40" r="1.15" fill="#1f4a9c"/>
<circle cx="435.90" cy="53.20" r="1.15" fill="#1f4a9c"/>
<circle cx="401.80" cy="67.30" r="1.15" fill="#1f4a9c"/>
<circle cx="421.10" cy="71.10" r="1.15" fill="#1f4a9c"/>
<circle cx="414.80" cy="73.00" r="1.15" fill="#1f4a9c"/>
<circle cx="422.80" cy="74.70" r="1.15" fill="#1f4a9c"/>
<circle cx="422.20" cy="75.80" r="1.15" fill="#1f4a9c"/>
<circle cx="434.10" cy="68.40" r="1.15" fill="#1f4a9c"/>
<circle cx="435.20" cy="73.40" r="1.15" fill="#1f4a9c"/>
<circle cx="443.30" cy="73.80" r="1.15" fill="#1f4a9c"/>
<circle cx="436.20" cy="78.70" r="1.15" fill="#1f4a9c"/>
<circle cx="444.00" cy="77.80" r="1.15" fill="#1f4a9c"/>
<circle cx="437.20" cy="78.00" r="1.15" fill="#1f4a9c"/>
<circle cx="448.70" cy="68.00" r="1.15" fill="#1f4a9c"/>
<circle cx="454.10" cy="67.00" r="1.15" fill="#1f4a9c"/>
<circle cx="443.80" cy="74.00" r="1.15" fill="#1f4a9c"/>
<circle cx="450.80" cy="75.40" r="1.15" fill="#1f4a9c"/>
<circle cx="455.20" cy="73.40" r="1.15" fill="#1f4a9c"/>
<circle cx="459.90" cy="73.40" r="1.15" fill="#1f4a9c"/>
<circle cx="462.20" cy="73.40" r="1.15" fill="#1f4a9c"/>
<circle cx="464.60" cy="75.40" r="1.15" fill="#1f4a9c"/>
<circle cx="465.60" cy="78.00" r="1.15" fill="#1f4a9c"/>
<circle cx="448.00" cy="78.00" r="1.15" fill="#1f4a9c"/>
<circle cx="388.10" cy="85.40" r="1.15" fill="#1f4a9c"/>
<circle cx="395.80" cy="89.80" r="1.15" fill="#1f4a9c"/>
<circle cx="416.10" cy="87.70" r="1.15" fill="#1f4a9c"/>
<circle cx="415.30" cy="92.80" r="1.15" fill="#1f4a9c"/>
<circle cx="417.30" cy="97.80" r="1.15" fill="#1f4a9c"/>
<circle cx="427.10" cy="80.40" r="1.15" fill="#1f4a9c"/>
<circle cx="425.40" cy="83.70" r="1.15" fill="#1f4a9c"/>
<circle cx="429.60" cy="85.70" r="1.15" fill="#1f4a9c"/>
<circle cx="438.60" cy="84.10" r="1.15" fill="#1f4a9c"/>
<circle cx="437.20" cy="78.70" r="1.15" fill="#1f4a9c"/>
<circle cx="443.00" cy="95.50" r="1.15" fill="#1f4a9c"/>
<circle cx="448.10" cy="84.50" r="1.15" fill="#1f4a9c"/>
<circle cx="460.20" cy="90.10" r="1.15" fill="#1f4a9c"/>
<circle cx="466.20" cy="78.70" r="1.15" fill="#1f4a9c"/>
<text class="b" x="352.80" y="81.00" font-size="7.3" text-anchor="middle" textLength="79.50" lengthAdjust="spacingAndGlyphs" fill="#222" transform="rotate(-90 352.80 81.00)" stroke="#222">CAR T cells in blood (cells/µL)</text>
<text class="b" x="417.7" y="147.7" font-size="8.4" fill="#222" textLength="52.3" lengthAdjust="spacingAndGlyphs" stroke="#222">Tumor burden (mm<tspan dy="-3.0" font-size="5.0">2</tspan><tspan dy="3.0">)</tspan></text>
<circle cx="405.20" cy="155.50" r="0.9" fill="#1f4a9c"/>
<rect x="404.3" y="161.0" width="1.8" height="1.8" fill="#c5112f"/>
<text x="409.50" y="157.40" font-size="4.9" textLength="59.00" lengthAdjust="spacingAndGlyphs" fill="#1f4a9c" stroke="#1f4a9c">Durable response (n = 39)</text>
<text x="409.50" y="163.80" font-size="4.9" textLength="73.80" lengthAdjust="spacingAndGlyphs" fill="#c5112f" stroke="#c5112f">Relapsed + no response (n = 56)</text>
<text class="L" x="7.20" y="189.40" font-size="12" fill="#000" font-weight="bold" stroke="#000">E</text>
<text x="77.70" y="199.30" font-size="8.0" text-anchor="middle" textLength="67.80" lengthAdjust="spacingAndGlyphs" stroke="#111">Effector:target ratio</text>
<text x="77.50" y="208.70" font-size="8.0" text-anchor="middle" textLength="71.20" lengthAdjust="spacingAndGlyphs" stroke="#111">by durable response</text>
<line x1="46.30" y1="217.80" x2="46.30" y2="299.28" stroke="#111" stroke-width="1.25"/>
<line x1="43.30" y1="298.78" x2="46.30" y2="298.78" stroke="#111" stroke-width="0.9"/>
<text x="40.60" y="300.78" font-size="5.4" text-anchor="end" stroke="#111">10<tspan dx="0.35" dy="-2.9" font-size="4.00">−5</tspan></text>
<line x1="44.70" y1="294.84" x2="46.30" y2="294.84" stroke="#111" stroke-width="0.6"/>
<line x1="44.70" y1="292.54" x2="46.30" y2="292.54" stroke="#111" stroke-width="0.6"/>
<line x1="44.70" y1="290.91" x2="46.30" y2="290.91" stroke="#111" stroke-width="0.6"/>
<line x1="44.70" y1="289.64" x2="46.30" y2="289.64" stroke="#111" stroke-width="0.6"/>
<line x1="44.70" y1="288.60" x2="46.30" y2="288.60" stroke="#111" stroke-width="0.6"/>
<line x1="44.70" y1="287.73" x2="46.30" y2="287.73" stroke="#111" stroke-width="0.6"/>
<line x1="44.70" y1="286.97" x2="46.30" y2="286.97" stroke="#111" stroke-width="0.6"/>
<line x1="44.70" y1="286.30" x2="46.30" y2="286.30" stroke="#111" stroke-width="0.6"/>
<line x1="43.30" y1="285.70" x2="46.30" y2="285.70" stroke="#111" stroke-width="0.9"/>
<text x="40.60" y="287.70" font-size="5.4" text-anchor="end" stroke="#111">10<tspan dx="0.35" dy="-2.9" font-size="4.00">−4</tspan></text>
<line x1="44.70" y1="281.76" x2="46.30" y2="281.76" stroke="#111" stroke-width="0.6"/>
<line x1="44.70" y1="279.46" x2="46.30" y2="279.46" stroke="#111" stroke-width="0.6"/>
<line x1="44.70" y1="277.83" x2="46.30" y2="277.83" stroke="#111" stroke-width="0.6"/>
<line x1="44.70" y1="276.56" x2="46.30" y2="276.56" stroke="#111" stroke-width="0.6"/>
<line x1="44.70" y1="275.52" x2="46.30" y2="275.52" stroke="#111" stroke-width="0.6"/>
<line x1="44.70" y1="274.65" x2="46.30" y2="274.65" stroke="#111" stroke-width="0.6"/>
<line x1="44.70" y1="273.89" x2="46.30" y2="273.89" stroke="#111" stroke-width="0.6"/>
<line x1="44.70" y1="273.22" x2="46.30" y2="273.22" stroke="#111" stroke-width="0.6"/>
<line x1="43.30" y1="272.62" x2="46.30" y2="272.62" stroke="#111" stroke-width="0.9"/>
<text x="40.60" y="274.62" font-size="5.4" text-anchor="end" stroke="#111">10<tspan dx="0.35" dy="-2.9" font-size="4.00">−3</tspan></text>
<line x1="44.70" y1="268.68" x2="46.30" y2="268.68" stroke="#111" stroke-width="0.6"/>
<line x1="44.70" y1="266.38" x2="46.30" y2="266.38" stroke="#111" stroke-width="0.6"/>
<line x1="44.70" y1="264.75" x2="46.30" y2="264.75" stroke="#111" stroke-width="0.6"/>
<line x1="44.70" y1="263.48" x2="46.30" y2="263.48" stroke="#111" stroke-width="0.6"/>
<line x1="44.70" y1="262.44" x2="46.30" y2="262.44" stroke="#111" stroke-width="0.6"/>
<line x1="44.70" y1="261.57" x2="46.30" y2="261.57" stroke="#111" stroke-width="0.6"/>
<line x1="44.70" y1="260.81" x2="46.30" y2="260.81" stroke="#111" stroke-width="0.6"/>
<line x1="44.70" y1="260.14" x2="46.30" y2="260.14" stroke="#111" stroke-width="0.6"/>
<line x1="43.30" y1="259.54" x2="46.30" y2="259.54" stroke="#111" stroke-width="0.9"/>
<text x="40.60" y="261.54" font-size="5.4" text-anchor="end" stroke="#111">10<tspan dx="0.35" dy="-2.9" font-size="4.00">−2</tspan></text>
<line x1="44.70" y1="255.60" x2="46.30" y2="255.60" stroke="#111" stroke-width="0.6"/>
<line x1="44.70" y1="253.30" x2="46.30" y2="253.30" stroke="#111" stroke-width="0.6"/>
<line x1="44.70" y1="251.67" x2="46.30" y2="251.67" stroke="#111" stroke-width="0.6"/>
<line x1="44.70" y1="250.40" x2="46.30" y2="250.40" stroke="#111" stroke-width="0.6"/>
<line x1="44.70" y1="249.36" x2="46.30" y2="249.36" stroke="#111" stroke-width="0.6"/>
<line x1="44.70" y1="248.49" x2="46.30" y2="248.49" stroke="#111" stroke-width="0.6"/>
<line x1="44.70" y1="247.73" x2="46.30" y2="247.73" stroke="#111" stroke-width="0.6"/>
<line x1="44.70" y1="247.06" x2="46.30" y2="247.06" stroke="#111" stroke-width="0.6"/>
<line x1="43.30" y1="246.46" x2="46.30" y2="246.46" stroke="#111" stroke-width="0.9"/>
<text x="40.60" y="248.46" font-size="5.4" text-anchor="end" stroke="#111">10<tspan dx="0.35" dy="-2.9" font-size="4.00">−1</tspan></text>
<line x1="44.70" y1="242.52" x2="46.30" y2="242.52" stroke="#111" stroke-width="0.6"/>
<line x1="44.70" y1="240.22" x2="46.30" y2="240.22" stroke="#111" stroke-width="0.6"/>
<line x1="44.70" y1="238.59" x2="46.30" y2="238.59" stroke="#111" stroke-width="0.6"/>
<line x1="44.70" y1="237.32" x2="46.30" y2="237.32" stroke="#111" stroke-width="0.6"/>
<line x1="44.70" y1="236.28" x2="46.30" y2="236.28" stroke="#111" stroke-width="0.6"/>
<line x1="44.70" y1="235.41" x2="46.30" y2="235.41" stroke="#111" stroke-width="0.6"/>
<line x1="44.70" y1="234.65" x2="46.30" y2="234.65" stroke="#111" stroke-width="0.6"/>
<line x1="44.70" y1="233.98" x2="46.30" y2="233.98" stroke="#111" stroke-width="0.6"/>
<line x1="43.30" y1="233.38" x2="46.30" y2="233.38" stroke="#111" stroke-width="0.9"/>
<text x="40.60" y="235.38" font-size="5.4" text-anchor="end" stroke="#111">10<tspan dx="0.35" dy="-2.9" font-size="4.00">0</tspan></text>
<line x1="44.70" y1="229.44" x2="46.30" y2="229.44" stroke="#111" stroke-width="0.6"/>
<line x1="44.70" y1="227.14" x2="46.30" y2="227.14" stroke="#111" stroke-width="0.6"/>
<line x1="44.70" y1="225.51" x2="46.30" y2="225.51" stroke="#111" stroke-width="0.6"/>
<line x1="44.70" y1="224.24" x2="46.30" y2="224.24" stroke="#111" stroke-width="0.6"/>
<line x1="44.70" y1="223.20" x2="46.30" y2="223.20" stroke="#111" stroke-width="0.6"/>
<line x1="44.70" y1="222.33" x2="46.30" y2="222.33" stroke="#111" stroke-width="0.6"/>
<line x1="44.70" y1="221.57" x2="46.30" y2="221.57" stroke="#111" stroke-width="0.6"/>
<line x1="44.70" y1="220.90" x2="46.30" y2="220.90" stroke="#111" stroke-width="0.6"/>
<line x1="43.30" y1="220.30" x2="46.30" y2="220.30" stroke="#111" stroke-width="0.9"/>
<text x="40.60" y="222.30" font-size="5.4" text-anchor="end" stroke="#111">10<tspan dx="0.35" dy="-2.9" font-size="4.00">1</tspan></text>
<line x1="43.50" y1="298.80" x2="111.90" y2="298.80" stroke="#111" stroke-width="1.25"/>
<text x="31.00" y="305.00" font-size="5.4" textLength="9.20" lengthAdjust="spacingAndGlyphs" fill="#222" stroke="#222">n =</text>
<line x1="46.30" y1="298.80" x2="46.30" y2="307.50" stroke="#444" stroke-width="0.7"/>
<line x1="108.80" y1="298.80" x2="108.80" y2="307.50" stroke="#444" stroke-width="0.7"/>
<line x1="46.30" y1="307.50" x2="108.80" y2="307.50" stroke="#444" stroke-width="0.7"/>
<line x1="67.10" y1="298.80" x2="67.10" y2="307.50" stroke="#444" stroke-width="0.7"/>
<line x1="87.30" y1="298.80" x2="87.30" y2="307.50" stroke="#444" stroke-width="0.7"/>
<text x="56.90" y="305.40" font-size="6.0" text-anchor="middle" fill="#222" stroke="#222">39</text>
<text x="77.40" y="305.40" font-size="6.0" text-anchor="middle" fill="#222" stroke="#222">40</text>
<text x="98.25" y="305.40" font-size="6.0" text-anchor="middle" fill="#222" stroke="#222">15</text>
<line x1="57.00" y1="235.70" x2="57.00" y2="251.30" stroke="#2a2a2a" stroke-width="0.85"/>
<line x1="57.00" y1="260.20" x2="57.00" y2="271.40" stroke="#2a2a2a" stroke-width="0.85"/>
<line x1="52.70" y1="235.70" x2="61.30" y2="235.70" stroke="#2a2a2a" stroke-width="0.85"/>
<line x1="52.70" y1="271.40" x2="61.30" y2="271.40" stroke="#2a2a2a" stroke-width="0.85"/>
<rect x="48.20" y="251.30" width="17.60" height="8.90" stroke="#2a2a2a" stroke-width="0.85" fill="none"/>
<line x1="48.20" y1="255.90" x2="65.80" y2="255.90" stroke="#2a2a2a" stroke-width="1.275"/>
<line x1="77.50" y1="237.70" x2="77.50" y2="255.00" stroke="#2a2a2a" stroke-width="0.85"/>
<line x1="77.50" y1="265.90" x2="77.50" y2="288.10" stroke="#2a2a2a" stroke-width="0.85"/>
<line x1="73.20" y1="237.70" x2="81.80" y2="237.70" stroke="#2a2a2a" stroke-width="0.85"/>
<line x1="73.20" y1="288.10" x2="81.80" y2="288.10" stroke="#2a2a2a" stroke-width="0.85"/>
<rect x="68.80" y="255.00" width="17.40" height="10.90" stroke="#2a2a2a" stroke-width="0.85" fill="none"/>
<line x1="68.80" y1="258.50" x2="86.20" y2="258.50" stroke="#2a2a2a" stroke-width="1.275"/>
<line x1="98.20" y1="244.00" x2="98.20" y2="256.10" stroke="#2a2a2a" stroke-width="0.85"/>
<line x1="98.20" y1="276.30" x2="98.20" y2="286.30" stroke="#2a2a2a" stroke-width="0.85"/>
<line x1="93.90" y1="244.00" x2="102.50" y2="244.00" stroke="#2a2a2a" stroke-width="0.85"/>
<line x1="93.90" y1="286.30" x2="102.50" y2="286.30" stroke="#2a2a2a" stroke-width="0.85"/>
<rect x="89.25" y="256.10" width="17.90" height="20.20" stroke="#2a2a2a" stroke-width="0.85" fill="none"/>
<line x1="89.25" y1="265.10" x2="107.15" y2="265.10" stroke="#2a2a2a" stroke-width="1.275"/>
<circle cx="52.70" cy="237.10" r="1.05" fill="#1f4a9c"/>
<circle cx="56.80" cy="235.70" r="1.05" fill="#1f4a9c"/>
<circle cx="61.30" cy="237.10" r="1.05" fill="#1f4a9c"/>
<circle cx="55.80" cy="246.40" r="1.05" fill="#1f4a9c"/>
<circle cx="60.10" cy="245.50" r="1.05" fill="#1f4a9c"/>
<circle cx="55.80" cy="247.90" r="1.05" fill="#1f4a9c"/>
<circle cx="60.10" cy="247.90" r="1.05" fill="#1f4a9c"/>
<circle cx="50.90" cy="251.00" r="1.05" fill="#1f4a9c"/>
<circle cx="53.60" cy="251.30" r="1.05" fill="#1f4a9c"/>
<circle cx="56.40" cy="250.60" r="1.05" fill="#1f4a9c"/>
<circle cx="59.20" cy="251.30" r="1.05" fill="#1f4a9c"/>
<circle cx="61.90" cy="251.00" r="1.05" fill="#1f4a9c"/>
<circle cx="49.70" cy="252.80" r="1.05" fill="#1f4a9c"/>
<circle cx="52.70" cy="253.10" r="1.05" fill="#1f4a9c"/>
<circle cx="55.80" cy="253.10" r="1.05" fill="#1f4a9c"/>
<circle cx="58.90" cy="252.80" r="1.05" fill="#1f4a9c"/>
<circle cx="61.90" cy="253.10" r="1.05" fill="#1f4a9c"/>
<circle cx="64.40" cy="252.80" r="1.05" fill="#1f4a9c"/>
<circle cx="50.30" cy="254.60" r="1.05" fill="#1f4a9c"/>
<circle cx="53.60" cy="255.00" r="1.05" fill="#1f4a9c"/>
<circle cx="57.00" cy="254.60" r="1.05" fill="#1f4a9c"/>
<circle cx="60.40" cy="255.00" r="1.05" fill="#1f4a9c"/>
<circle cx="63.70" cy="254.60" r="1.05" fill="#1f4a9c"/>
<circle cx="49.70" cy="257.10" r="1.05" fill="#1f4a9c"/>
<circle cx="52.70" cy="257.70" r="1.05" fill="#1f4a9c"/>
<circle cx="55.80" cy="257.50" r="1.05" fill="#1f4a9c"/>
<circle cx="58.90" cy="258.00" r="1.05" fill="#1f4a9c"/>
<circle cx="61.90" cy="257.50" r="1.05" fill="#1f4a9c"/>
<circle cx="64.40" cy="257.70" r="1.05" fill="#1f4a9c"/>
<circle cx="50.90" cy="259.50" r="1.05" fill="#1f4a9c"/>
<circle cx="54.60" cy="259.90" r="1.05" fill="#1f4a9c"/>
<circle cx="58.20" cy="259.50" r="1.05" fill="#1f4a9c"/>
<circle cx="61.90" cy="259.90" r="1.05" fill="#1f4a9c"/>
<circle cx="57.00" cy="262.00" r="1.05" fill="#1f4a9c"/>
<circle cx="52.70" cy="264.80" r="1.05" fill="#1f4a9c"/>
<circle cx="57.60" cy="264.40" r="1.05" fill="#1f4a9c"/>
<circle cx="61.30" cy="264.80" r="1.05" fill="#1f4a9c"/>
<circle cx="54.60" cy="271.40" r="1.05" fill="#1f4a9c"/>
<circle cx="58.90" cy="271.20" r="1.05" fill="#1f4a9c"/>
<circle cx="77.50" cy="237.70" r="1.05" fill="#c5112f"/>
<circle cx="75.10" cy="242.80" r="1.05" fill="#c5112f"/>
<circle cx="79.70" cy="244.50" r="1.05" fill="#c5112f"/>
<circle cx="75.50" cy="246.20" r="1.05" fill="#c5112f"/>
<circle cx="77.50" cy="250.90" r="1.05" fill="#c5112f"/>
<circle cx="72.90" cy="252.60" r="1.05" fill="#c5112f"/>
<circle cx="81.90" cy="251.80" r="1.05" fill="#c5112f"/>
<circle cx="70.40" cy="255.70" r="1.05" fill="#c5112f"/>
<circle cx="73.80" cy="255.20" r="1.05" fill="#c5112f"/>
<circle cx="77.20" cy="256.00" r="1.05" fill="#c5112f"/>
<circle cx="80.50" cy="255.70" r="1.05" fill="#c5112f"/>
<circle cx="83.90" cy="256.30" r="1.05" fill="#c5112f"/>
<circle cx="71.20" cy="258.50" r="1.05" fill="#c5112f"/>
<circle cx="74.60" cy="259.00" r="1.05" fill="#c5112f"/>
<circle cx="78.00" cy="258.50" r="1.05" fill="#c5112f"/>
<circle cx="81.40" cy="259.00" r="1.05" fill="#c5112f"/>
<circle cx="84.80" cy="258.50" r="1.05" fill="#c5112f"/>
<circle cx="72.90" cy="261.10" r="1.05" fill="#c5112f"/>
<circle cx="76.30" cy="261.40" r="1.05" fill="#c5112f"/>
<circle cx="79.70" cy="261.10" r="1.05" fill="#c5112f"/>
<circle cx="83.10" cy="261.40" r="1.05" fill="#c5112f"/>
<circle cx="74.60" cy="263.60" r="1.05" fill="#c5112f"/>
<circle cx="78.80" cy="264.10" r="1.05" fill="#c5112f"/>
<circle cx="70.40" cy="267.00" r="1.05" fill="#c5112f"/>
<circle cx="75.50" cy="267.50" r="1.05" fill="#c5112f"/>
<circle cx="80.50" cy="267.00" r="1.05" fill="#c5112f"/>
<circle cx="84.80" cy="267.50" r="1.05" fill="#c5112f"/>
<circle cx="74.60" cy="270.40" r="1.05" fill="#c5112f"/>
<circle cx="79.70" cy="269.90" r="1.05" fill="#c5112f"/>
<circle cx="73.40" cy="272.90" r="1.05" fill="#c5112f"/>
<circle cx="81.90" cy="273.30" r="1.05" fill="#c5112f"/>
<circle cx="77.50" cy="274.60" r="1.05" fill="#c5112f"/>
<circle cx="73.80" cy="276.30" r="1.05" fill="#c5112f"/>
<circle cx="81.40" cy="276.00" r="1.05" fill="#c5112f"/>
<circle cx="77.50" cy="278.80" r="1.05" fill="#c5112f"/>
<circle cx="77.50" cy="288.10" r="1.05" fill="#c5112f"/>
<circle cx="98.40" cy="244.40" r="1.05" fill="#5cb32c"/>
<circle cx="98.40" cy="249.00" r="1.05" fill="#5cb32c"/>
<circle cx="98.40" cy="251.40" r="1.05" fill="#5cb32c"/>
<circle cx="98.40" cy="255.00" r="1.05" fill="#5cb32c"/>
<circle cx="98.40" cy="258.20" r="1.05" fill="#5cb32c"/>
<circle cx="95.90" cy="263.30" r="1.05" fill="#5cb32c"/>
<circle cx="104.70" cy="263.30" r="1.05" fill="#5cb32c"/>
<circle cx="91.80" cy="265.10" r="1.05" fill="#5cb32c"/>
<circle cx="100.30" cy="265.10" r="1.05" fill="#5cb32c"/>
<circle cx="98.40" cy="273.50" r="1.05" fill="#5cb32c"/>
<circle cx="96.20" cy="276.20" r="1.05" fill="#5cb32c"/>
<circle cx="100.30" cy="276.20" r="1.05" fill="#5cb32c"/>
<circle cx="96.20" cy="279.40" r="1.05" fill="#5cb32c"/>
<circle cx="100.30" cy="279.40" r="1.05" fill="#5cb32c"/>
<circle cx="98.40" cy="286.60" r="1.05" fill="#5cb32c"/>
<path d="M56.20,222.60 L56.20,220.80 L98.40,220.80 L98.40,222.60" stroke="#222" stroke-width="0.8" fill="none"/>
<text x="78.70" y="218.60" font-size="4.6" text-anchor="middle" fill="#333" textLength="25.50" lengthAdjust="spacingAndGlyphs" stroke="#333"><tspan font-style="italic">P</tspan> = 0.0046</text>
<path d="M56.20,232.70 L56.20,230.90 L98.40,230.90 L98.40,232.70" stroke="#222" stroke-width="0.8" fill="none"/>
<line x1="77.20" y1="230.90" x2="77.20" y2="232.70" stroke="#222" stroke-width="0.8"/>
<text x="62.00" y="229.00" font-size="4.6" text-anchor="middle" fill="#333" textLength="25.50" lengthAdjust="spacingAndGlyphs" stroke="#333"><tspan font-style="italic">P</tspan> = 0.0093</text>
<text x="92.10" y="229.00" font-size="4.6" text-anchor="middle" fill="#333" textLength="25.50" lengthAdjust="spacingAndGlyphs" stroke="#333"><tspan font-style="italic">P</tspan> = 0.1493</text>
<text class="b" x="14.20" y="258.20" font-size="7.8" text-anchor="middle" textLength="84.50" lengthAdjust="spacingAndGlyphs" fill="#222" transform="rotate(-90 14.20 258.20)" stroke="#222">Peak CAR T cells / tumor burden</text>
<text class="b" x="23.8" y="258.5" font-size="7.6" fill="#222" text-anchor="middle" transform="rotate(-90 23.6 258.5)" textLength="38.5" lengthAdjust="spacingAndGlyphs" stroke="#222">(10<tspan dy="-2.9" font-size="4.8">6</tspan><tspan dy="2.9"> cells/mm</tspan><tspan dy="-2.9" font-size="4.8">2</tspan><tspan dy="2.9">)</tspan></text>
<text x="55.20" y="312.40" font-size="6.2" text-anchor="end" fill="#222" transform="rotate(-45 55.20 312.40)" stroke="#222">Durable</text>
<text x="60.29" y="317.49" font-size="6.2" text-anchor="end" fill="#222" transform="rotate(-45 60.29 317.49)" stroke="#222">response</text>
<text x="79.20" y="312.40" font-size="6.2" text-anchor="end" fill="#222" transform="rotate(-45 79.20 312.40)" stroke="#222">Relapse</text>
<text x="101.30" y="312.40" font-size="6.2" text-anchor="end" fill="#222" transform="rotate(-45 101.30 312.40)" stroke="#222">No</text>
<text x="106.39" y="317.49" font-size="6.2" text-anchor="end" fill="#222" transform="rotate(-45 106.39 317.49)" stroke="#222">response</text>
<text class="L" x="129.00" y="189.40" font-size="12" fill="#000" font-weight="bold" stroke="#000">F</text>
<text x="173.20" y="199.30" font-size="8.0" text-anchor="middle" textLength="67.80" lengthAdjust="spacingAndGlyphs" stroke="#111">Effector:target ratio</text>
<text x="172.60" y="208.70" font-size="8.0" text-anchor="middle" textLength="76.70" lengthAdjust="spacingAndGlyphs" stroke="#111">by objective response</text>
<line x1="140.50" y1="217.80" x2="140.50" y2="299.28" stroke="#111" stroke-width="1.25"/>
<line x1="137.50" y1="298.78" x2="140.50" y2="298.78" stroke="#111" stroke-width="0.9"/>
<line x1="138.90" y1="294.84" x2="140.50" y2="294.84" stroke="#111" stroke-width="0.6"/>
<line x1="138.90" y1="292.54" x2="140.50" y2="292.54" stroke="#111" stroke-width="0.6"/>
<line x1="138.90" y1="290.91" x2="140.50" y2="290.91" stroke="#111" stroke-width="0.6"/>
<line x1="138.90" y1="289.64" x2="140.50" y2="289.64" stroke="#111" stroke-width="0.6"/>
<line x1="138.90" y1="288.60" x2="140.50" y2="288.60" stroke="#111" stroke-width="0.6"/>
<line x1="138.90" y1="287.73" x2="140.50" y2="287.73" stroke="#111" stroke-width="0.6"/>
<line x1="138.90" y1="286.97" x2="140.50" y2="286.97" stroke="#111" stroke-width="0.6"/>
<line x1="138.90" y1="286.30" x2="140.50" y2="286.30" stroke="#111" stroke-width="0.6"/>
<line x1="137.50" y1="285.70" x2="140.50" y2="285.70" stroke="#111" stroke-width="0.9"/>
<line x1="138.90" y1="281.76" x2="140.50" y2="281.76" stroke="#111" stroke-width="0.6"/>
<line x1="138.90" y1="279.46" x2="140.50" y2="279.46" stroke="#111" stroke-width="0.6"/>
<line x1="138.90" y1="277.83" x2="140.50" y2="277.83" stroke="#111" stroke-width="0.6"/>
<line x1="138.90" y1="276.56" x2="140.50" y2="276.56" stroke="#111" stroke-width="0.6"/>
<line x1="138.90" y1="275.52" x2="140.50" y2="275.52" stroke="#111" stroke-width="0.6"/>
<line x1="138.90" y1="274.65" x2="140.50" y2="274.65" stroke="#111" stroke-width="0.6"/>
<line x1="138.90" y1="273.89" x2="140.50" y2="273.89" stroke="#111" stroke-width="0.6"/>
<line x1="138.90" y1="273.22" x2="140.50" y2="273.22" stroke="#111" stroke-width="0.6"/>
<line x1="137.50" y1="272.62" x2="140.50" y2="272.62" stroke="#111" stroke-width="0.9"/>
<line x1="138.90" y1="268.68" x2="140.50" y2="268.68" stroke="#111" stroke-width="0.6"/>
<line x1="138.90" y1="266.38" x2="140.50" y2="266.38" stroke="#111" stroke-width="0.6"/>
<line x1="138.90" y1="264.75" x2="140.50" y2="264.75" stroke="#111" stroke-width="0.6"/>
<line x1="138.90" y1="263.48" x2="140.50" y2="263.48" stroke="#111" stroke-width="0.6"/>
<line x1="138.90" y1="262.44" x2="140.50" y2="262.44" stroke="#111" stroke-width="0.6"/>
<line x1="138.90" y1="261.57" x2="140.50" y2="261.57" stroke="#111" stroke-width="0.6"/>
<line x1="138.90" y1="260.81" x2="140.50" y2="260.81" stroke="#111" stroke-width="0.6"/>
<line x1="138.90" y1="260.14" x2="140.50" y2="260.14" stroke="#111" stroke-width="0.6"/>
<line x1="137.50" y1="259.54" x2="140.50" y2="259.54" stroke="#111" stroke-width="0.9"/>
<line x1="138.90" y1="255.60" x2="140.50" y2="255.60" stroke="#111" stroke-width="0.6"/>
<line x1="138.90" y1="253.30" x2="140.50" y2="253.30" stroke="#111" stroke-width="0.6"/>
<line x1="138.90" y1="251.67" x2="140.50" y2="251.67" stroke="#111" stroke-width="0.6"/>
<line x1="138.90" y1="250.40" x2="140.50" y2="250.40" stroke="#111" stroke-width="0.6"/>
<line x1="138.90" y1="249.36" x2="140.50" y2="249.36" stroke="#111" stroke-width="0.6"/>
<line x1="138.90" y1="248.49" x2="140.50" y2="248.49" stroke="#111" stroke-width="0.6"/>
<line x1="138.90" y1="247.73" x2="140.50" y2="247.73" stroke="#111" stroke-width="0.6"/>
<line x1="138.90" y1="247.06" x2="140.50" y2="247.06" stroke="#111" stroke-width="0.6"/>
<line x1="137.50" y1="246.46" x2="140.50" y2="246.46" stroke="#111" stroke-width="0.9"/>
<line x1="138.90" y1="242.52" x2="140.50" y2="242.52" stroke="#111" stroke-width="0.6"/>
<line x1="138.90" y1="240.22" x2="140.50" y2="240.22" stroke="#111" stroke-width="0.6"/>
<line x1="138.90" y1="238.59" x2="140.50" y2="238.59" stroke="#111" stroke-width="0.6"/>
<line x1="138.90" y1="237.32" x2="140.50" y2="237.32" stroke="#111" stroke-width="0.6"/>
<line x1="138.90" y1="236.28" x2="140.50" y2="236.28" stroke="#111" stroke-width="0.6"/>
<line x1="138.90" y1="235.41" x2="140.50" y2="235.41" stroke="#111" stroke-width="0.6"/>
<line x1="138.90" y1="234.65" x2="140.50" y2="234.65" stroke="#111" stroke-width="0.6"/>
<line x1="138.90" y1="233.98" x2="140.50" y2="233.98" stroke="#111" stroke-width="0.6"/>
<line x1="137.50" y1="233.38" x2="140.50" y2="233.38" stroke="#111" stroke-width="0.9"/>
<line x1="138.90" y1="229.44" x2="140.50" y2="229.44" stroke="#111" stroke-width="0.6"/>
<line x1="138.90" y1="227.14" x2="140.50" y2="227.14" stroke="#111" stroke-width="0.6"/>
<line x1="138.90" y1="225.51" x2="140.50" y2="225.51" stroke="#111" stroke-width="0.6"/>
<line x1="138.90" y1="224.24" x2="140.50" y2="224.24" stroke="#111" stroke-width="0.6"/>
<line x1="138.90" y1="223.20" x2="140.50" y2="223.20" stroke="#111" stroke-width="0.6"/>
<line x1="138.90" y1="222.33" x2="140.50" y2="222.33" stroke="#111" stroke-width="0.6"/>
<line x1="138.90" y1="221.57" x2="140.50" y2="221.57" stroke="#111" stroke-width="0.6"/>
<line x1="138.90" y1="220.90" x2="140.50" y2="220.90" stroke="#111" stroke-width="0.6"/>
<line x1="137.50" y1="220.30" x2="140.50" y2="220.30" stroke="#111" stroke-width="0.9"/>
<line x1="138.30" y1="298.80" x2="208.00" y2="298.80" stroke="#111" stroke-width="1.25"/>
<text x="129.20" y="305.60" font-size="5.4" textLength="8.80" lengthAdjust="spacingAndGlyphs" fill="#222" stroke="#222">n =</text>
<line x1="140.80" y1="298.80" x2="140.80" y2="307.50" stroke="#444" stroke-width="0.7"/>
<line x1="204.60" y1="298.80" x2="204.60" y2="307.50" stroke="#444" stroke-width="0.7"/>
<line x1="140.80" y1="307.50" x2="204.60" y2="307.50" stroke="#444" stroke-width="0.7"/>
<line x1="162.30" y1="298.80" x2="162.30" y2="307.50" stroke="#444" stroke-width="0.7"/>
<line x1="183.50" y1="298.80" x2="183.50" y2="307.50" stroke="#444" stroke-width="0.7"/>
<text x="151.75" y="305.40" font-size="6.0" text-anchor="middle" fill="#222" stroke="#222">57</text>
<text x="173.10" y="305.40" font-size="6.0" text-anchor="middle" fill="#222" stroke="#222">25</text>
<text x="194.25" y="305.40" font-size="6.0" text-anchor="middle" fill="#222" stroke="#222">13</text>
<line x1="152.20" y1="235.50" x2="152.20" y2="251.60" stroke="#2a2a2a" stroke-width="0.85"/>
<line x1="152.20" y1="260.00" x2="152.20" y2="276.50" stroke="#2a2a2a" stroke-width="0.85"/>
<line x1="147.90" y1="235.50" x2="156.50" y2="235.50" stroke="#2a2a2a" stroke-width="0.85"/>
<line x1="147.90" y1="276.50" x2="156.50" y2="276.50" stroke="#2a2a2a" stroke-width="0.85"/>
<rect x="143.40" y="251.60" width="17.60" height="8.40" stroke="#2a2a2a" stroke-width="0.85" fill="none"/>
<line x1="143.40" y1="257.00" x2="161.00" y2="257.00" stroke="#2a2a2a" stroke-width="1.275"/>
<line x1="172.70" y1="244.20" x2="172.70" y2="258.90" stroke="#2a2a2a" stroke-width="0.85"/>
<line x1="172.70" y1="269.50" x2="172.70" y2="288.20" stroke="#2a2a2a" stroke-width="0.85"/>
<line x1="168.40" y1="244.20" x2="177.00" y2="244.20" stroke="#2a2a2a" stroke-width="0.85"/>
<line x1="168.40" y1="288.20" x2="177.00" y2="288.20" stroke="#2a2a2a" stroke-width="0.85"/>
<rect x="163.75" y="258.90" width="17.90" height="10.60" stroke="#2a2a2a" stroke-width="0.85" fill="none"/>
<line x1="163.75" y1="262.00" x2="181.65" y2="262.00" stroke="#2a2a2a" stroke-width="1.275"/>
<line x1="194.20" y1="243.90" x2="194.20" y2="256.60" stroke="#2a2a2a" stroke-width="0.85"/>
<line x1="194.20" y1="276.20" x2="194.20" y2="286.80" stroke="#2a2a2a" stroke-width="0.85"/>
<line x1="189.90" y1="243.90" x2="198.50" y2="243.90" stroke="#2a2a2a" stroke-width="0.85"/>
<line x1="189.90" y1="286.80" x2="198.50" y2="286.80" stroke="#2a2a2a" stroke-width="0.85"/>
<rect x="185.30" y="256.60" width="17.80" height="19.60" stroke="#2a2a2a" stroke-width="0.85" fill="none"/>
<line x1="185.30" y1="264.90" x2="203.10" y2="264.90" stroke="#2a2a2a" stroke-width="1.275"/>
<circle cx="147.30" cy="235.50" r="1.05" fill="#561a84"/>
<circle cx="151.50" cy="235.50" r="1.05" fill="#561a84"/>
<circle cx="155.70" cy="236.20" r="1.05" fill="#561a84"/>
<circle cx="147.30" cy="237.90" r="1.05" fill="#561a84"/>
<circle cx="151.50" cy="239.00" r="1.05" fill="#561a84"/>
<circle cx="150.80" cy="242.50" r="1.05" fill="#561a84"/>
<circle cx="150.10" cy="245.30" r="1.05" fill="#561a84"/>
<circle cx="152.90" cy="246.00" r="1.05" fill="#561a84"/>
<circle cx="150.80" cy="248.10" r="1.05" fill="#561a84"/>
<circle cx="154.30" cy="248.80" r="1.05" fill="#561a84"/>
<circle cx="148.70" cy="250.50" r="1.05" fill="#561a84"/>
<circle cx="152.20" cy="250.20" r="1.05" fill="#561a84"/>
<circle cx="155.70" cy="250.90" r="1.05" fill="#561a84"/>
<circle cx="145.20" cy="252.30" r="1.05" fill="#561a84"/>
<circle cx="148.00" cy="253.00" r="1.05" fill="#561a84"/>
<circle cx="151.50" cy="252.30" r="1.05" fill="#561a84"/>
<circle cx="155.00" cy="253.00" r="1.05" fill="#561a84"/>
<circle cx="158.50" cy="252.30" r="1.05" fill="#561a84"/>
<circle cx="145.90" cy="254.40" r="1.05" fill="#561a84"/>
<circle cx="149.40" cy="255.10" r="1.05" fill="#561a84"/>
<circle cx="152.90" cy="254.40" r="1.05" fill="#561a84"/>
<circle cx="156.40" cy="255.10" r="1.05" fill="#561a84"/>
<circle cx="159.20" cy="254.40" r="1.05" fill="#561a84"/>
<circle cx="144.50" cy="256.50" r="1.05" fill="#561a84"/>
<circle cx="147.30" cy="257.20" r="1.05" fill="#561a84"/>
<circle cx="150.80" cy="256.50" r="1.05" fill="#561a84"/>
<circle cx="154.30" cy="257.20" r="1.05" fill="#561a84"/>
<circle cx="157.80" cy="256.50" r="1.05" fill="#561a84"/>
<circle cx="145.90" cy="258.60" r="1.05" fill="#561a84"/>
<circle cx="149.40" cy="259.30" r="1.05" fill="#561a84"/>
<circle cx="152.90" cy="258.60" r="1.05" fill="#561a84"/>
<circle cx="156.40" cy="259.30" r="1.05" fill="#561a84"/>
<circle cx="159.20" cy="258.60" r="1.05" fill="#561a84"/>
<circle cx="148.00" cy="260.70" r="1.05" fill="#561a84"/>
<circle cx="151.50" cy="261.40" r="1.05" fill="#561a84"/>
<circle cx="155.00" cy="260.70" r="1.05" fill="#561a84"/>
<circle cx="149.40" cy="262.80" r="1.05" fill="#561a84"/>
<circle cx="152.90" cy="263.50" r="1.05" fill="#561a84"/>
<circle cx="150.80" cy="265.60" r="1.05" fill="#561a84"/>
<circle cx="153.60" cy="264.90" r="1.05" fill="#561a84"/>
<circle cx="149.40" cy="267.70" r="1.05" fill="#561a84"/>
<circle cx="149.40" cy="270.50" r="1.05" fill="#561a84"/>
<circle cx="153.60" cy="271.40" r="1.05" fill="#561a84"/>
<circle cx="149.40" cy="272.80" r="1.05" fill="#561a84"/>
<circle cx="151.50" cy="276.50" r="1.05" fill="#561a84"/>
<circle cx="147.00" cy="254.00" r="1.05" fill="#561a84"/>
<circle cx="153.50" cy="256.00" r="1.05" fill="#561a84"/>
<circle cx="150.00" cy="258.00" r="1.05" fill="#561a84"/>
<circle cx="156.00" cy="257.80" r="1.05" fill="#561a84"/>
<circle cx="146.50" cy="259.80" r="1.05" fill="#561a84"/>
<circle cx="158.00" cy="260.00" r="1.05" fill="#561a84"/>
<circle cx="172.60" cy="244.20" r="1.05" fill="#e8900e"/>
<circle cx="172.60" cy="251.40" r="1.05" fill="#e8900e"/>
<circle cx="172.60" cy="254.40" r="1.05" fill="#e8900e"/>
<circle cx="168.80" cy="256.40" r="1.05" fill="#e8900e"/>
<circle cx="176.80" cy="256.40" r="1.05" fill="#e8900e"/>
<circle cx="180.90" cy="256.40" r="1.05" fill="#e8900e"/>
<circle cx="165.00" cy="258.90" r="1.05" fill="#e8900e"/>
<circle cx="168.80" cy="259.40" r="1.05" fill="#e8900e"/>
<circle cx="172.90" cy="260.50" r="1.05" fill="#e8900e"/>
<circle cx="176.80" cy="259.40" r="1.05" fill="#e8900e"/>
<circle cx="180.90" cy="259.40" r="1.05" fill="#e8900e"/>
<circle cx="166.50" cy="265.00" r="1.05" fill="#e8900e"/>
<circle cx="166.50" cy="267.30" r="1.05" fill="#e8900e"/>
<circle cx="170.80" cy="265.80" r="1.05" fill="#e8900e"/>
<circle cx="175.30" cy="267.00" r="1.05" fill="#e8900e"/>
<circle cx="179.40" cy="267.00" r="1.05" fill="#e8900e"/>
<circle cx="172.60" cy="270.00" r="1.05" fill="#e8900e"/>
<circle cx="172.90" cy="272.10" r="1.05" fill="#e8900e"/>
<circle cx="175.30" cy="272.60" r="1.05" fill="#e8900e"/>
<circle cx="175.30" cy="274.50" r="1.05" fill="#e8900e"/>
<circle cx="170.80" cy="276.10" r="1.05" fill="#e8900e"/>
<circle cx="172.60" cy="279.10" r="1.05" fill="#e8900e"/>
<circle cx="172.60" cy="288.20" r="1.05" fill="#e8900e"/>
<circle cx="193.70" cy="244.40" r="1.05" fill="#5cb32c"/>
<circle cx="193.70" cy="249.00" r="1.05" fill="#5cb32c"/>
<circle cx="193.70" cy="253.80" r="1.05" fill="#5cb32c"/>
<circle cx="193.70" cy="257.80" r="1.05" fill="#5cb32c"/>
<circle cx="191.90" cy="263.00" r="1.05" fill="#5cb32c"/>
<circle cx="200.20" cy="263.00" r="1.05" fill="#5cb32c"/>
<circle cx="187.50" cy="265.10" r="1.05" fill="#5cb32c"/>
<circle cx="195.80" cy="265.10" r="1.05" fill="#5cb32c"/>
<circle cx="193.70" cy="273.50" r="1.05" fill="#5cb32c"/>
<circle cx="191.90" cy="276.20" r="1.05" fill="#5cb32c"/>
<circle cx="195.40" cy="276.20" r="1.05" fill="#5cb32c"/>
<circle cx="193.70" cy="279.40" r="1.05" fill="#5cb32c"/>
<circle cx="193.70" cy="286.60" r="1.05" fill="#5cb32c"/>
<path d="M151.90,222.30 L151.90,220.50 L194.90,220.50 L194.90,222.30" stroke="#222" stroke-width="0.8" fill="none"/>
<text x="176.20" y="218.40" font-size="4.6" text-anchor="middle" fill="#333" textLength="25.50" lengthAdjust="spacingAndGlyphs" stroke="#333"><tspan font-style="italic">P</tspan> = 0.0037</text>
<path d="M151.90,233.70 L151.90,231.90 L194.90,231.90 L194.90,233.70" stroke="#222" stroke-width="0.8" fill="none"/>
<line x1="173.30" y1="231.90" x2="173.30" y2="233.70" stroke="#222" stroke-width="0.8"/>
<text x="159.50" y="229.80" font-size="4.6" text-anchor="middle" fill="#333" textLength="25.50" lengthAdjust="spacingAndGlyphs" stroke="#333"><tspan font-style="italic">P</tspan> = 0.0013</text>
<text x="188.00" y="229.80" font-size="4.6" text-anchor="middle" fill="#333" textLength="25.50" lengthAdjust="spacingAndGlyphs" stroke="#333"><tspan font-style="italic">P</tspan> = 0.4515</text>
<text x="151.50" y="316.60" font-size="6.6" text-anchor="middle" fill="#222" stroke="#222">CR</text>
<text x="172.90" y="316.60" font-size="6.6" text-anchor="middle" fill="#222" stroke="#222">PR</text>
<text x="194.20" y="316.60" font-size="6.6" text-anchor="middle" fill="#222" stroke="#222">NR</text>
<text class="L" x="226.40" y="189.40" font-size="12" fill="#000" font-weight="bold" stroke="#000">G</text>
<line x1="253.30" y1="209.40" x2="253.30" y2="299.20" stroke="#111" stroke-width="1.25"/>
<line x1="252.80" y1="298.70" x2="362.80" y2="298.70" stroke="#111" stroke-width="1.25"/>
<line x1="250.30" y1="211.90" x2="253.30" y2="211.90" stroke="#111" stroke-width="0.9"/>
<text x="247.60" y="214.10" font-size="5.6" text-anchor="end" fill="#333" stroke="#333">1.0</text>
<line x1="250.30" y1="255.30" x2="253.30" y2="255.30" stroke="#111" stroke-width="0.9"/>
<text x="247.60" y="257.50" font-size="5.6" text-anchor="end" fill="#333" stroke="#333">0.5</text>
<line x1="250.30" y1="298.70" x2="253.30" y2="298.70" stroke="#111" stroke-width="0.9"/>
<text x="247.60" y="300.90" font-size="5.6" text-anchor="end" fill="#333" stroke="#333">0.0</text>
<line x1="258.20" y1="298.70" x2="258.20" y2="301.30" stroke="#111" stroke-width="0.8"/>
<text x="258.50" y="310.20" font-size="6.0" text-anchor="middle" fill="#222" stroke="#222">2<tspan dy="-3.0" font-size="4.0">0</tspan></text>
<line x1="267.40" y1="298.70" x2="267.40" y2="301.30" stroke="#111" stroke-width="0.8"/>
<text x="267.70" y="310.20" font-size="6.0" text-anchor="middle" fill="#222" stroke="#222">2<tspan dy="-3.0" font-size="4.0">1</tspan></text>
<line x1="276.60" y1="298.70" x2="276.60" y2="301.30" stroke="#111" stroke-width="0.8"/>
<text x="276.90" y="310.20" font-size="6.0" text-anchor="middle" fill="#222" stroke="#222">2<tspan dy="-3.0" font-size="4.0">2</tspan></text>
<line x1="285.80" y1="298.70" x2="285.80" y2="301.30" stroke="#111" stroke-width="0.8"/>
<text x="286.10" y="310.20" font-size="6.0" text-anchor="middle" fill="#222" stroke="#222">2<tspan dy="-3.0" font-size="4.0">3</tspan></text>
<line x1="295.00" y1="298.70" x2="295.00" y2="301.30" stroke="#111" stroke-width="0.8"/>
<text x="295.30" y="310.20" font-size="6.0" text-anchor="middle" fill="#222" stroke="#222">2<tspan dy="-3.0" font-size="4.0">4</tspan></text>
<line x1="304.20" y1="298.70" x2="304.20" y2="301.30" stroke="#111" stroke-width="0.8"/>
<text x="304.50" y="310.20" font-size="6.0" text-anchor="middle" fill="#222" stroke="#222">2<tspan dy="-3.0" font-size="4.0">5</tspan></text>
<line x1="313.40" y1="298.70" x2="313.40" y2="301.30" stroke="#111" stroke-width="0.8"/>
<text x="313.70" y="310.20" font-size="6.0" text-anchor="middle" fill="#222" stroke="#222">2<tspan dy="-3.0" font-size="4.0">6</tspan></text>
<line x1="322.60" y1="298.70" x2="322.60" y2="301.30" stroke="#111" stroke-width="0.8"/>
<text x="322.90" y="310.20" font-size="6.0" text-anchor="middle" fill="#222" stroke="#222">2<tspan dy="-3.0" font-size="4.0">7</tspan></text>
<line x1="331.80" y1="298.70" x2="331.80" y2="301.30" stroke="#111" stroke-width="0.8"/>
<text x="332.10" y="310.20" font-size="6.0" text-anchor="middle" fill="#222" stroke="#222">2<tspan dy="-3.0" font-size="4.0">8</tspan></text>
<line x1="341.00" y1="298.70" x2="341.00" y2="301.30" stroke="#111" stroke-width="0.8"/>
<text x="341.30" y="310.20" font-size="6.0" text-anchor="middle" fill="#222" stroke="#222">2<tspan dy="-3.0" font-size="4.0">9</tspan></text>
<line x1="350.20" y1="298.70" x2="350.20" y2="301.30" stroke="#111" stroke-width="0.8"/>
<text x="350.50" y="310.20" font-size="6.0" text-anchor="middle" fill="#222" stroke="#222">2<tspan dy="-3.0" font-size="4.0">10</tspan></text>
<line x1="359.40" y1="298.70" x2="359.40" y2="301.30" stroke="#111" stroke-width="0.8"/>
<text x="359.70" y="310.20" font-size="6.0" text-anchor="middle" fill="#222" stroke="#222">2<tspan dy="-3.0" font-size="4.0">11</tspan></text>
<path d="M255.90,265.12 L257.57,264.92 L259.24,264.73 L260.91,264.53 L262.57,264.33 L264.24,264.12 L265.91,263.91 L267.58,263.70 L269.25,263.48 L270.92,263.26 L272.58,263.03 L274.25,262.79 L275.92,262.55 L277.59,262.30 L279.26,262.04 L280.93,261.77 L282.59,261.49 L284.26,261.20 L285.93,260.89 L287.60,260.56 L289.27,260.21 L290.94,259.84 L292.60,259.43 L294.27,259.00 L295.94,258.53 L297.61,258.01 L299.28,257.44 L300.94,256.81 L302.61,256.10 L304.28,255.32 L305.95,254.45 L307.62,253.49 L309.29,252.43 L310.95,251.28 L312.62,250.04 L314.29,248.71 L315.96,247.32 L317.63,245.88 L319.30,244.39 L320.97,242.87 L322.63,241.35 L324.30,239.82 L325.97,238.31 L327.64,236.81 L329.31,235.35 L330.98,233.93 L332.64,232.55 L334.31,231.22 L335.98,229.94 L337.65,228.72 L339.32,227.56 L340.99,226.45 L342.65,225.41 L344.32,224.42 L345.99,223.49 L347.66,222.61 L349.33,221.79 L351.00,221.03 L352.66,220.32 L354.33,219.65 L356.00,219.03 L356.00,258.06 L354.33,258.27 L352.66,258.49 L351.00,258.70 L349.33,258.93 L347.66,259.16 L345.99,259.39 L344.32,259.63 L342.65,259.87 L340.99,260.12 L339.32,260.38 L337.65,260.65 L335.98,260.93 L334.31,261.22 L332.64,261.53 L330.98,261.84 L329.31,262.18 L327.64,262.54 L325.97,262.92 L324.30,263.34 L322.63,263.78 L320.97,264.27 L319.30,264.80 L317.63,265.38 L315.96,266.02 L314.29,266.72 L312.62,267.50 L310.95,268.35 L309.29,269.28 L307.62,270.28 L305.95,271.34 L304.28,272.47 L302.61,273.64 L300.94,274.84 L299.28,276.06 L297.61,277.28 L295.94,278.49 L294.27,279.69 L292.60,280.86 L290.94,281.99 L289.27,283.09 L287.60,284.14 L285.93,285.15 L284.26,286.11 L282.59,287.01 L280.93,287.87 L279.26,288.68 L277.59,289.44 L275.92,290.15 L274.25,290.81 L272.58,291.43 L270.92,292.01 L269.25,292.54 L267.58,293.04 L265.91,293.50 L264.24,293.93 L262.57,294.32 L260.91,294.68 L259.24,295.02 L257.57,295.33 L255.90,295.61 Z" fill="#e7c6be" stroke="none"/>
<path d="M255.90,287.21 L257.57,286.70 L259.24,286.17 L260.91,285.62 L262.57,285.05 L264.24,284.46 L265.91,283.85 L267.58,283.22 L269.25,282.56 L270.92,281.89 L272.58,281.20 L274.25,280.48 L275.92,279.75 L277.59,278.99 L279.26,278.21 L280.93,277.41 L282.59,276.59 L284.26,275.75 L285.93,274.89 L287.60,274.01 L289.27,273.11 L290.94,272.20 L292.60,271.26 L294.27,270.30 L295.94,269.33 L297.61,268.35 L299.28,267.35 L300.94,266.33 L302.61,265.30 L304.28,264.26 L305.95,263.21 L307.62,262.15 L309.29,261.08 L310.95,260.00 L312.62,258.91 L314.29,257.83 L315.96,256.74 L317.63,255.64 L319.30,254.55 L320.97,253.46 L322.63,252.37 L324.30,251.28 L325.97,250.20 L327.64,249.13 L329.31,248.06 L330.98,247.00 L332.64,245.95 L334.31,244.92 L335.98,243.89 L337.65,242.88 L339.32,241.88 L340.99,240.90 L342.65,239.94 L344.32,238.99 L345.99,238.06 L347.66,237.15 L349.33,236.26 L351.00,235.38 L352.66,234.53 L354.33,233.70 L356.00,232.89" fill="none" stroke="#f0dbd5" stroke-width="2.9" stroke-linecap="butt"/>
<path d="M255.90,287.21 L257.57,286.70 L259.24,286.17 L260.91,285.62 L262.57,285.05 L264.24,284.46 L265.91,283.85 L267.58,283.22 L269.25,282.56 L270.92,281.89 L272.58,281.20 L274.25,280.48 L275.92,279.75 L277.59,278.99 L279.26,278.21 L280.93,277.41 L282.59,276.59 L284.26,275.75 L285.93,274.89 L287.60,274.01 L289.27,273.11 L290.94,272.20 L292.60,271.26 L294.27,270.30 L295.94,269.33 L297.61,268.35 L299.28,267.35 L300.94,266.33 L302.61,265.30 L304.28,264.26 L305.95,263.21 L307.62,262.15 L309.29,261.08 L310.95,260.00 L312.62,258.91 L314.29,257.83 L315.96,256.74 L317.63,255.64 L319.30,254.55 L320.97,253.46 L322.63,252.37 L324.30,251.28 L325.97,250.20 L327.64,249.13 L329.31,248.06 L330.98,247.00 L332.64,245.95 L334.31,244.92 L335.98,243.89 L337.65,242.88 L339.32,241.88 L340.99,240.90 L342.65,239.94 L344.32,238.99 L345.99,238.06 L347.66,237.15 L349.33,236.26 L351.00,235.38 L352.66,234.53 L354.33,233.70 L356.00,232.89" fill="none" stroke="#b3102d" stroke-width="1.65" stroke-linecap="butt"/>
<text x="306.90" y="217.00" font-size="4.9" text-anchor="middle" fill="#333" textLength="25.50" lengthAdjust="spacingAndGlyphs" stroke="#333"><tspan font-style="italic">P</tspan> = 0.0159</text>
<text x="306.50" y="224.20" font-size="4.9" text-anchor="middle" textLength="14.50" lengthAdjust="spacingAndGlyphs" fill="#333" stroke="#333">n = 95</text>
<text class="b" x="233.30" y="254.00" font-size="7.4" text-anchor="middle" textLength="78.60" lengthAdjust="spacingAndGlyphs" fill="#222" transform="rotate(-90 233.30 254.00)" stroke="#222">Probability of durable response</text>
<text class="b" x="272.2" y="322.4" font-size="8.4" fill="#222" textLength="71.2" lengthAdjust="spacingAndGlyphs" stroke="#222">Peak CAR T cells (cells/µL)</text>
<text class="L" x="378.70" y="189.40" font-size="12" fill="#000" font-weight="bold" stroke="#000">H</text>
<line x1="405.40" y1="209.40" x2="405.40" y2="299.20" stroke="#111" stroke-width="1.25"/>
<line x1="404.90" y1="298.70" x2="507.50" y2="298.70" stroke="#111" stroke-width="1.25"/>
<line x1="402.40" y1="211.90" x2="405.40" y2="211.90" stroke="#111" stroke-width="0.9"/>
<text x="399.60" y="214.10" font-size="5.6" text-anchor="end" fill="#333" stroke="#333">1.0</text>
<line x1="402.40" y1="255.30" x2="405.40" y2="255.30" stroke="#111" stroke-width="0.9"/>
<text x="399.60" y="257.50" font-size="5.6" text-anchor="end" fill="#333" stroke="#333">0.5</text>
<line x1="402.40" y1="298.70" x2="405.40" y2="298.70" stroke="#111" stroke-width="0.9"/>
<text x="399.60" y="300.90" font-size="5.6" text-anchor="end" fill="#333" stroke="#333">0.0</text>
<line x1="408.20" y1="298.70" x2="408.20" y2="301.30" stroke="#111" stroke-width="0.8"/>
<text x="408.50" y="310.20" font-size="6.0" text-anchor="middle" fill="#222" stroke="#222">2<tspan dy="-3.0" font-size="4.0">−14</tspan></text>
<line x1="415.09" y1="298.70" x2="415.09" y2="301.30" stroke="#111" stroke-width="0.8"/>
<line x1="421.97" y1="298.70" x2="421.97" y2="301.30" stroke="#111" stroke-width="0.8"/>
<text x="422.27" y="310.20" font-size="6.0" text-anchor="middle" fill="#222" stroke="#222">2<tspan dy="-3.0" font-size="4.0">−12</tspan></text>
<line x1="428.86" y1="298.70" x2="428.86" y2="301.30" stroke="#111" stroke-width="0.8"/>
<line x1="435.74" y1="298.70" x2="435.74" y2="301.30" stroke="#111" stroke-width="0.8"/>
<text x="436.04" y="310.20" font-size="6.0" text-anchor="middle" fill="#222" stroke="#222">2<tspan dy="-3.0" font-size="4.0">−10</tspan></text>
<line x1="442.63" y1="298.70" x2="442.63" y2="301.30" stroke="#111" stroke-width="0.8"/>
<line x1="449.52" y1="298.70" x2="449.52" y2="301.30" stroke="#111" stroke-width="0.8"/>
<text x="449.82" y="310.20" font-size="6.0" text-anchor="middle" fill="#222" stroke="#222">2<tspan dy="-3.0" font-size="4.0">−8</tspan></text>
<line x1="456.40" y1="298.70" x2="456.40" y2="301.30" stroke="#111" stroke-width="0.8"/>
<line x1="463.29" y1="298.70" x2="463.29" y2="301.30" stroke="#111" stroke-width="0.8"/>
<text x="463.59" y="310.20" font-size="6.0" text-anchor="middle" fill="#222" stroke="#222">2<tspan dy="-3.0" font-size="4.0">−6</tspan></text>
<line x1="470.17" y1="298.70" x2="470.17" y2="301.30" stroke="#111" stroke-width="0.8"/>
<line x1="477.06" y1="298.70" x2="477.06" y2="301.30" stroke="#111" stroke-width="0.8"/>
<text x="477.36" y="310.20" font-size="6.0" text-anchor="middle" fill="#222" stroke="#222">2<tspan dy="-3.0" font-size="4.0">−4</tspan></text>
<line x1="483.95" y1="298.70" x2="483.95" y2="301.30" stroke="#111" stroke-width="0.8"/>
<line x1="490.83" y1="298.70" x2="490.83" y2="301.30" stroke="#111" stroke-width="0.8"/>
<text x="491.13" y="310.20" font-size="6.0" text-anchor="middle" fill="#222" stroke="#222">2<tspan dy="-3.0" font-size="4.0">−2</tspan></text>
<line x1="497.72" y1="298.70" x2="497.72" y2="301.30" stroke="#111" stroke-width="0.8"/>
<line x1="504.60" y1="298.70" x2="504.60" y2="301.30" stroke="#111" stroke-width="0.8"/>
<text x="504.90" y="310.20" font-size="6.0" text-anchor="middle" fill="#222" stroke="#222">2<tspan dy="-3.0" font-size="4.0">0</tspan></text>
<path d="M409.30,279.38 L410.82,278.87 L412.35,278.36 L413.88,277.83 L415.40,277.29 L416.93,276.74 L418.45,276.17 L419.98,275.59 L421.50,275.00 L423.03,274.39 L424.55,273.76 L426.07,273.12 L427.60,272.47 L429.12,271.79 L430.65,271.10 L432.18,270.39 L433.70,269.65 L435.23,268.90 L436.75,268.12 L438.28,267.31 L439.80,266.48 L441.32,265.62 L442.85,264.72 L444.38,263.79 L445.90,262.83 L447.43,261.82 L448.95,260.77 L450.48,259.68 L452.00,258.53 L453.53,257.33 L455.05,256.08 L456.57,254.77 L458.10,253.40 L459.62,251.98 L461.15,250.51 L462.68,248.98 L464.20,247.42 L465.73,245.81 L467.25,244.19 L468.78,242.54 L470.30,240.89 L471.82,239.24 L473.35,237.61 L474.88,236.01 L476.40,234.44 L477.93,232.91 L479.45,231.43 L480.98,230.02 L482.50,228.66 L484.02,227.37 L485.55,226.15 L487.08,225.00 L488.60,223.92 L490.12,222.91 L491.65,221.97 L493.18,221.09 L494.70,220.28 L496.23,219.53 L497.75,218.84 L499.27,218.20 L500.80,217.62 L500.80,248.60 L499.27,249.34 L497.75,250.10 L496.23,250.86 L494.70,251.64 L493.18,252.42 L491.65,253.22 L490.12,254.04 L488.60,254.86 L487.08,255.70 L485.55,256.56 L484.02,257.43 L482.50,258.32 L480.98,259.23 L479.45,260.16 L477.93,261.11 L476.40,262.08 L474.88,263.08 L473.35,264.10 L471.82,265.15 L470.30,266.23 L468.78,267.34 L467.25,268.48 L465.73,269.65 L464.20,270.84 L462.68,272.06 L461.15,273.30 L459.62,274.55 L458.10,275.82 L456.57,277.08 L455.05,278.34 L453.53,279.58 L452.00,280.80 L450.48,282.00 L448.95,283.15 L447.43,284.27 L445.90,285.34 L444.38,286.36 L442.85,287.33 L441.32,288.25 L439.80,289.11 L438.28,289.91 L436.75,290.66 L435.23,291.36 L433.70,292.01 L432.18,292.61 L430.65,293.16 L429.12,293.67 L427.60,294.13 L426.07,294.56 L424.55,294.95 L423.03,295.31 L421.50,295.63 L419.98,295.93 L418.45,296.19 L416.93,296.44 L415.40,296.66 L413.88,296.86 L412.35,297.04 L410.82,297.20 L409.30,297.35 Z" fill="#e7c6be" stroke="none"/>
<path d="M409.30,293.23 L410.82,292.87 L412.35,292.48 L413.88,292.06 L415.40,291.62 L416.93,291.15 L418.45,290.66 L419.98,290.14 L421.50,289.58 L423.03,289.00 L424.55,288.38 L426.07,287.73 L427.60,287.05 L429.12,286.32 L430.65,285.57 L432.18,284.77 L433.70,283.94 L435.23,283.06 L436.75,282.15 L438.28,281.19 L439.80,280.20 L441.32,279.17 L442.85,278.09 L444.38,276.97 L445.90,275.82 L447.43,274.63 L448.95,273.40 L450.48,272.13 L452.00,270.83 L453.53,269.49 L455.05,268.13 L456.57,266.73 L458.10,265.31 L459.62,263.87 L461.15,262.41 L462.68,260.93 L464.20,259.43 L465.73,257.93 L467.25,256.42 L468.78,254.91 L470.30,253.40 L471.82,251.89 L473.35,250.39 L474.88,248.91 L476.40,247.44 L477.93,245.98 L479.45,244.55 L480.98,243.14 L482.50,241.76 L484.02,240.41 L485.55,239.10 L487.08,237.81 L488.60,236.56 L490.12,235.35 L491.65,234.18 L493.18,233.04 L494.70,231.95 L496.23,230.89 L497.75,229.88 L499.27,228.91 L500.80,227.97" fill="none" stroke="#f0dbd5" stroke-width="2.9" stroke-linecap="butt"/>
<path d="M409.30,293.23 L410.82,292.87 L412.35,292.48 L413.88,292.06 L415.40,291.62 L416.93,291.15 L418.45,290.66 L419.98,290.14 L421.50,289.58 L423.03,289.00 L424.55,288.38 L426.07,287.73 L427.60,287.05 L429.12,286.32 L430.65,285.57 L432.18,284.77 L433.70,283.94 L435.23,283.06 L436.75,282.15 L438.28,281.19 L439.80,280.20 L441.32,279.17 L442.85,278.09 L444.38,276.97 L445.90,275.82 L447.43,274.63 L448.95,273.40 L450.48,272.13 L452.00,270.83 L453.53,269.49 L455.05,268.13 L456.57,266.73 L458.10,265.31 L459.62,263.87 L461.15,262.41 L462.68,260.93 L464.20,259.43 L465.73,257.93 L467.25,256.42 L468.78,254.91 L470.30,253.40 L471.82,251.89 L473.35,250.39 L474.88,248.91 L476.40,247.44 L477.93,245.98 L479.45,244.55 L480.98,243.14 L482.50,241.76 L484.02,240.41 L485.55,239.10 L487.08,237.81 L488.60,236.56 L490.12,235.35 L491.65,234.18 L493.18,233.04 L494.70,231.95 L496.23,230.89 L497.75,229.88 L499.27,228.91 L500.80,227.97" fill="none" stroke="#b3102d" stroke-width="1.65" stroke-linecap="butt"/>
<text x="454.70" y="217.00" font-size="4.9" text-anchor="middle" fill="#333" textLength="24.70" lengthAdjust="spacingAndGlyphs" stroke="#333"><tspan font-style="italic">P</tspan> = 0.0017</text>
<text x="454.70" y="224.20" font-size="4.9" text-anchor="middle" textLength="15.00" lengthAdjust="spacingAndGlyphs" fill="#333" stroke="#333">n = 94</text>
<text class="b" x="385.10" y="253.60" font-size="7.4" text-anchor="middle" textLength="79.00" lengthAdjust="spacingAndGlyphs" fill="#222" transform="rotate(-90 385.10 253.60)" stroke="#222">Probability of durable response</text>
<text class="b" x="456.30" y="322.40" font-size="8.0" text-anchor="middle" textLength="83.40" lengthAdjust="spacingAndGlyphs" fill="#222" stroke="#222">Peak CAR T cells / tumor burden</text>
<text class="b" x="456.3" y="331.2" font-size="8.0" fill="#222" text-anchor="middle" textLength="40.3" lengthAdjust="spacingAndGlyphs" stroke="#222">(10<tspan dy="-2.9" font-size="4.8">6</tspan><tspan dy="2.9"> cells/mm</tspan><tspan dy="-2.9" font-size="4.8">2</tspan><tspan dy="2.9">)</tspan></text>
<rect x="0.6" y="0.6" width="518.8" height="341.8" fill="none" stroke="#000" stroke-width="1.2"/>
</svg>
</body></html>
